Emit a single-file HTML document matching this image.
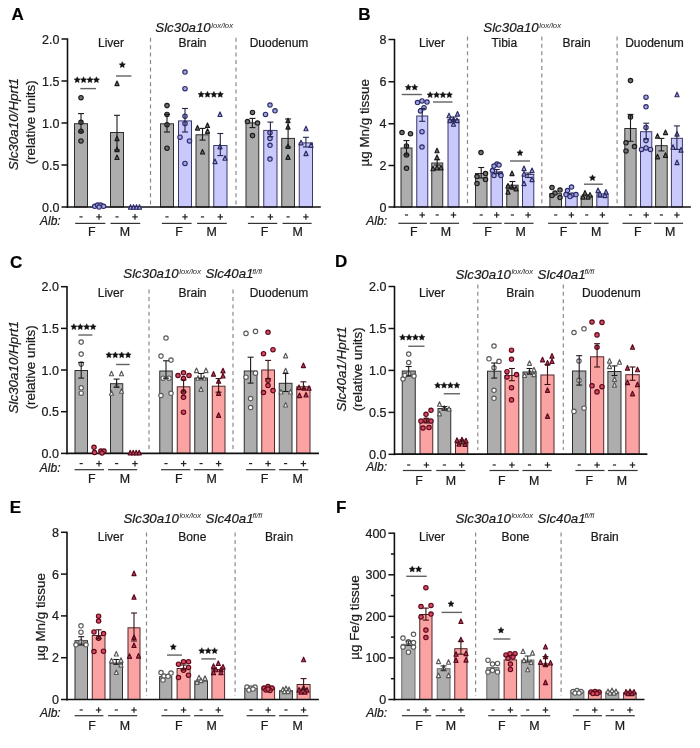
<!DOCTYPE html>
<html><head><meta charset="utf-8"><style>
html,body{margin:0;padding:0;background:#fff;}
svg{display:block;font-family:"Liberation Sans", sans-serif;will-change:transform;}
text{stroke:#1a1a1a;stroke-width:0.22px;}
</style></head><body>
<svg width="700" height="748" viewBox="0 0 700 748">
<rect width="700" height="748" fill="#fff"/>
<text x="11.40" y="20.00" font-size="17" text-anchor="start" fill="#000" font-weight="bold">A</text>
<text x="155.30" y="32.40" font-size="13.3" font-style="italic" fill="#1a1a1a">Slc30a10</text>
<text x="211.20" y="27.80" font-size="7.7" font-style="italic" fill="#2a2a2a" style="stroke:none">lox/lox</text>
<line x1="67.50" y1="38.40" x2="67.50" y2="207.90" stroke="#111" stroke-width="1.6"/>
<line x1="61.50" y1="39.00" x2="67.50" y2="39.00" stroke="#111" stroke-width="1.5"/>
<text x="59.40" y="43.50" font-size="12.5" text-anchor="end" fill="#1a1a1a">2.0</text>
<line x1="61.50" y1="81.00" x2="67.50" y2="81.00" stroke="#111" stroke-width="1.5"/>
<text x="59.40" y="85.50" font-size="12.5" text-anchor="end" fill="#1a1a1a">1.5</text>
<line x1="61.50" y1="123.00" x2="67.50" y2="123.00" stroke="#111" stroke-width="1.5"/>
<text x="59.40" y="127.50" font-size="12.5" text-anchor="end" fill="#1a1a1a">1.0</text>
<line x1="61.50" y1="165.00" x2="67.50" y2="165.00" stroke="#111" stroke-width="1.5"/>
<text x="59.40" y="169.50" font-size="12.5" text-anchor="end" fill="#1a1a1a">0.5</text>
<line x1="61.50" y1="207.00" x2="67.50" y2="207.00" stroke="#111" stroke-width="1.5"/>
<text x="59.40" y="211.50" font-size="12.5" text-anchor="end" fill="#1a1a1a">0.0</text>
<text x="0" y="0" font-size="13.4" text-anchor="middle" fill="#1a1a1a" font-style="italic" transform="translate(17.90,124.10) rotate(-90)">Slc30a10/Hprt1</text>
<text x="0" y="0" font-size="13.4" text-anchor="middle" fill="#1a1a1a" transform="translate(35.30,122.30) rotate(-90)">(relative units)</text>
<text x="111.00" y="47.00" font-size="12" text-anchor="middle" fill="#1a1a1a">Liver</text>
<text x="192.50" y="47.00" font-size="12" text-anchor="middle" fill="#1a1a1a">Brain</text>
<text x="279.00" y="47.00" font-size="12" text-anchor="middle" fill="#1a1a1a">Duodenum</text>
<line x1="150.50" y1="37.80" x2="150.50" y2="206.00" stroke="#8a8a8a" stroke-width="1.2" stroke-dasharray="4,3.4"/>
<line x1="236.00" y1="37.80" x2="236.00" y2="206.00" stroke="#8a8a8a" stroke-width="1.2" stroke-dasharray="4,3.4"/>
<rect x="74.50" y="123.70" width="13.00" height="83.30" fill="#adadad" stroke="#2e2e2e" stroke-width="1"/>
<rect x="92.50" y="207.50" width="13.00" height="0.00" fill="#c9c9fc" stroke="#3a3a6a" stroke-width="1"/>
<rect x="110.50" y="132.50" width="13.00" height="74.50" fill="#adadad" stroke="#2e2e2e" stroke-width="1"/>
<rect x="128.50" y="207.50" width="13.00" height="0.00" fill="#c9c9fc" stroke="#3a3a6a" stroke-width="1"/>
<rect x="160.50" y="123.80" width="13.00" height="83.20" fill="#adadad" stroke="#2e2e2e" stroke-width="1"/>
<rect x="178.50" y="120.90" width="13.00" height="86.10" fill="#c9c9fc" stroke="#3a3a6a" stroke-width="1"/>
<rect x="196.00" y="134.80" width="13.00" height="72.20" fill="#adadad" stroke="#2e2e2e" stroke-width="1"/>
<rect x="213.75" y="145.50" width="13.25" height="61.50" fill="#c9c9fc" stroke="#3a3a6a" stroke-width="1"/>
<rect x="246.00" y="122.90" width="12.75" height="84.10" fill="#adadad" stroke="#2e2e2e" stroke-width="1"/>
<rect x="263.75" y="130.40" width="13.25" height="76.60" fill="#c9c9fc" stroke="#3a3a6a" stroke-width="1"/>
<rect x="281.75" y="138.40" width="12.75" height="68.60" fill="#adadad" stroke="#2e2e2e" stroke-width="1"/>
<rect x="299.25" y="142.90" width="13.25" height="64.10" fill="#c9c9fc" stroke="#3a3a6a" stroke-width="1"/>
<line x1="66.70" y1="207.00" x2="320.80" y2="207.00" stroke="#111" stroke-width="1.7"/>
<circle cx="81.00" cy="97.70" r="2.2" fill="#717171" stroke="#1a1a1a" stroke-width="1.15"/>
<circle cx="81.00" cy="122.30" r="2.2" fill="#717171" stroke="#1a1a1a" stroke-width="1.15"/>
<circle cx="81.00" cy="131.30" r="2.2" fill="#717171" stroke="#1a1a1a" stroke-width="1.15"/>
<circle cx="81.00" cy="140.90" r="2.2" fill="#717171" stroke="#1a1a1a" stroke-width="1.15"/>
<circle cx="94.70" cy="206.30" r="2.2" fill="#a4a4e8" stroke="#2c2c66" stroke-width="1.15"/>
<circle cx="97.60" cy="205.00" r="2.2" fill="#a4a4e8" stroke="#2c2c66" stroke-width="1.15"/>
<circle cx="100.60" cy="205.00" r="2.2" fill="#a4a4e8" stroke="#2c2c66" stroke-width="1.15"/>
<circle cx="103.60" cy="206.30" r="2.2" fill="#a4a4e8" stroke="#2c2c66" stroke-width="1.15"/>
<circle cx="99.10" cy="207.00" r="2.2" fill="#a4a4e8" stroke="#2c2c66" stroke-width="1.15"/>
<polygon points="117.00,81.00 114.95,85.55 119.05,85.55" fill="#717171" stroke="#1a1a1a" stroke-width="1.15" stroke-linejoin="round"/>
<polygon points="117.00,136.10 114.95,140.65 119.05,140.65" fill="#717171" stroke="#1a1a1a" stroke-width="1.15" stroke-linejoin="round"/>
<polygon points="117.00,147.10 114.95,151.65 119.05,151.65" fill="#717171" stroke="#1a1a1a" stroke-width="1.15" stroke-linejoin="round"/>
<polygon points="117.00,154.90 114.95,159.45 119.05,159.45" fill="#717171" stroke="#1a1a1a" stroke-width="1.15" stroke-linejoin="round"/>
<polygon points="130.50,204.70 128.45,209.25 132.55,209.25" fill="#a4a4e8" stroke="#2c2c66" stroke-width="1.15" stroke-linejoin="round"/>
<polygon points="133.50,204.70 131.45,209.25 135.55,209.25" fill="#a4a4e8" stroke="#2c2c66" stroke-width="1.15" stroke-linejoin="round"/>
<polygon points="136.50,204.70 134.45,209.25 138.55,209.25" fill="#a4a4e8" stroke="#2c2c66" stroke-width="1.15" stroke-linejoin="round"/>
<polygon points="139.50,204.70 137.45,209.25 141.55,209.25" fill="#a4a4e8" stroke="#2c2c66" stroke-width="1.15" stroke-linejoin="round"/>
<circle cx="167.00" cy="105.60" r="2.2" fill="#717171" stroke="#1a1a1a" stroke-width="1.15"/>
<circle cx="167.00" cy="114.40" r="2.2" fill="#717171" stroke="#1a1a1a" stroke-width="1.15"/>
<circle cx="167.00" cy="124.70" r="2.2" fill="#717171" stroke="#1a1a1a" stroke-width="1.15"/>
<circle cx="167.00" cy="148.20" r="2.2" fill="#717171" stroke="#1a1a1a" stroke-width="1.15"/>
<circle cx="185.00" cy="72.00" r="2.2" fill="#a4a4e8" stroke="#2c2c66" stroke-width="1.15"/>
<circle cx="185.00" cy="88.70" r="2.2" fill="#a4a4e8" stroke="#2c2c66" stroke-width="1.15"/>
<circle cx="185.00" cy="116.20" r="2.2" fill="#a4a4e8" stroke="#2c2c66" stroke-width="1.15"/>
<circle cx="185.00" cy="123.50" r="2.2" fill="#a4a4e8" stroke="#2c2c66" stroke-width="1.15"/>
<circle cx="180.00" cy="137.20" r="2.2" fill="#a4a4e8" stroke="#2c2c66" stroke-width="1.15"/>
<circle cx="189.50" cy="140.90" r="2.2" fill="#a4a4e8" stroke="#2c2c66" stroke-width="1.15"/>
<circle cx="185.00" cy="163.40" r="2.2" fill="#a4a4e8" stroke="#2c2c66" stroke-width="1.15"/>
<polygon points="197.50,125.50 195.45,130.05 199.55,130.05" fill="#717171" stroke="#1a1a1a" stroke-width="1.15" stroke-linejoin="round"/>
<polygon points="207.50,122.90 205.45,127.45 209.55,127.45" fill="#717171" stroke="#1a1a1a" stroke-width="1.15" stroke-linejoin="round"/>
<polygon points="207.50,128.80 205.45,133.35 209.55,133.35" fill="#717171" stroke="#1a1a1a" stroke-width="1.15" stroke-linejoin="round"/>
<polygon points="202.50,149.40 200.45,153.95 204.55,153.95" fill="#717171" stroke="#1a1a1a" stroke-width="1.15" stroke-linejoin="round"/>
<polygon points="220.00,111.90 217.95,116.45 222.05,116.45" fill="#a4a4e8" stroke="#2c2c66" stroke-width="1.15" stroke-linejoin="round"/>
<polygon points="220.00,144.30 217.95,148.85 222.05,148.85" fill="#a4a4e8" stroke="#2c2c66" stroke-width="1.15" stroke-linejoin="round"/>
<polygon points="215.00,159.00 212.95,163.55 217.05,163.55" fill="#a4a4e8" stroke="#2c2c66" stroke-width="1.15" stroke-linejoin="round"/>
<polygon points="225.00,155.70 222.95,160.25 227.05,160.25" fill="#a4a4e8" stroke="#2c2c66" stroke-width="1.15" stroke-linejoin="round"/>
<circle cx="252.50" cy="112.40" r="2.2" fill="#717171" stroke="#1a1a1a" stroke-width="1.15"/>
<circle cx="247.50" cy="121.50" r="2.2" fill="#717171" stroke="#1a1a1a" stroke-width="1.15"/>
<circle cx="257.50" cy="123.00" r="2.2" fill="#717171" stroke="#1a1a1a" stroke-width="1.15"/>
<circle cx="252.50" cy="135.60" r="2.2" fill="#717171" stroke="#1a1a1a" stroke-width="1.15"/>
<circle cx="270.00" cy="105.00" r="2.2" fill="#a4a4e8" stroke="#2c2c66" stroke-width="1.15"/>
<circle cx="265.50" cy="114.40" r="2.2" fill="#a4a4e8" stroke="#2c2c66" stroke-width="1.15"/>
<circle cx="275.00" cy="110.80" r="2.2" fill="#a4a4e8" stroke="#2c2c66" stroke-width="1.15"/>
<circle cx="270.00" cy="132.70" r="2.2" fill="#a4a4e8" stroke="#2c2c66" stroke-width="1.15"/>
<circle cx="270.00" cy="138.40" r="2.2" fill="#a4a4e8" stroke="#2c2c66" stroke-width="1.15"/>
<circle cx="270.00" cy="145.30" r="2.2" fill="#a4a4e8" stroke="#2c2c66" stroke-width="1.15"/>
<circle cx="270.00" cy="159.00" r="2.2" fill="#a4a4e8" stroke="#2c2c66" stroke-width="1.15"/>
<polygon points="288.00,118.20 285.95,122.75 290.05,122.75" fill="#717171" stroke="#1a1a1a" stroke-width="1.15" stroke-linejoin="round"/>
<polygon points="288.00,124.50 285.95,129.05 290.05,129.05" fill="#717171" stroke="#1a1a1a" stroke-width="1.15" stroke-linejoin="round"/>
<polygon points="288.00,143.90 285.95,148.45 290.05,148.45" fill="#717171" stroke="#1a1a1a" stroke-width="1.15" stroke-linejoin="round"/>
<polygon points="288.00,154.80 285.95,159.35 290.05,159.35" fill="#717171" stroke="#1a1a1a" stroke-width="1.15" stroke-linejoin="round"/>
<polygon points="306.00,126.20 303.95,130.75 308.05,130.75" fill="#a4a4e8" stroke="#2c2c66" stroke-width="1.15" stroke-linejoin="round"/>
<polygon points="301.00,140.30 298.95,144.85 303.05,144.85" fill="#a4a4e8" stroke="#2c2c66" stroke-width="1.15" stroke-linejoin="round"/>
<polygon points="311.00,142.80 308.95,147.35 313.05,147.35" fill="#a4a4e8" stroke="#2c2c66" stroke-width="1.15" stroke-linejoin="round"/>
<polygon points="306.00,151.00 303.95,155.55 308.05,155.55" fill="#a4a4e8" stroke="#2c2c66" stroke-width="1.15" stroke-linejoin="round"/>
<polygon points="77.20,76.80 78.11,78.75 80.24,79.01 78.67,80.48 79.08,82.59 77.20,81.55 75.32,82.59 75.73,80.48 74.16,79.01 76.29,78.75" fill="#111" stroke="#111" stroke-width="0.5" stroke-linejoin="round"/>
<polygon points="83.60,76.80 84.51,78.75 86.64,79.01 85.07,80.48 85.48,82.59 83.60,81.55 81.72,82.59 82.13,80.48 80.56,79.01 82.69,78.75" fill="#111" stroke="#111" stroke-width="0.5" stroke-linejoin="round"/>
<polygon points="90.00,76.80 90.91,78.75 93.04,79.01 91.47,80.48 91.88,82.59 90.00,81.55 88.12,82.59 88.53,80.48 86.96,79.01 89.09,78.75" fill="#111" stroke="#111" stroke-width="0.5" stroke-linejoin="round"/>
<polygon points="96.40,76.80 97.31,78.75 99.44,79.01 97.87,80.48 98.28,82.59 96.40,81.55 94.52,82.59 94.93,80.48 93.36,79.01 95.49,78.75" fill="#111" stroke="#111" stroke-width="0.5" stroke-linejoin="round"/>
<line x1="80.30" y1="88.60" x2="96.00" y2="88.60" stroke="#626262" stroke-width="1.4"/>
<polygon points="122.30,61.70 123.21,63.65 125.34,63.91 123.77,65.38 124.18,67.49 122.30,66.45 120.42,67.49 120.83,65.38 119.26,63.91 121.39,63.65" fill="#111" stroke="#111" stroke-width="0.5" stroke-linejoin="round"/>
<line x1="116.00" y1="76.00" x2="131.40" y2="76.00" stroke="#626262" stroke-width="1.4"/>
<polygon points="201.10,91.40 202.01,93.35 204.14,93.61 202.57,95.08 202.98,97.19 201.10,96.15 199.22,97.19 199.63,95.08 198.06,93.61 200.19,93.35" fill="#111" stroke="#111" stroke-width="0.5" stroke-linejoin="round"/>
<polygon points="207.50,91.40 208.41,93.35 210.54,93.61 208.97,95.08 209.38,97.19 207.50,96.15 205.62,97.19 206.03,95.08 204.46,93.61 206.59,93.35" fill="#111" stroke="#111" stroke-width="0.5" stroke-linejoin="round"/>
<polygon points="213.90,91.40 214.81,93.35 216.94,93.61 215.37,95.08 215.78,97.19 213.90,96.15 212.02,97.19 212.43,95.08 210.86,93.61 212.99,93.35" fill="#111" stroke="#111" stroke-width="0.5" stroke-linejoin="round"/>
<polygon points="220.30,91.40 221.21,93.35 223.34,93.61 221.77,95.08 222.18,97.19 220.30,96.15 218.42,97.19 218.83,95.08 217.26,93.61 219.39,93.35" fill="#111" stroke="#111" stroke-width="0.5" stroke-linejoin="round"/>
<text x="40.00" y="225.00" font-size="12" text-anchor="start" fill="#1a1a1a" font-style="italic">Alb:</text>
<line x1="79.40" y1="216.90" x2="82.60" y2="216.90" stroke="#222" stroke-width="1.2"/>
<line x1="96.25" y1="216.90" x2="101.75" y2="216.90" stroke="#222" stroke-width="1.2"/>
<line x1="99.00" y1="214.10" x2="99.00" y2="219.70" stroke="#222" stroke-width="1.2"/>
<line x1="115.40" y1="216.90" x2="118.60" y2="216.90" stroke="#222" stroke-width="1.2"/>
<line x1="132.25" y1="216.90" x2="137.75" y2="216.90" stroke="#222" stroke-width="1.2"/>
<line x1="135.00" y1="214.10" x2="135.00" y2="219.70" stroke="#222" stroke-width="1.2"/>
<line x1="165.40" y1="216.90" x2="168.60" y2="216.90" stroke="#222" stroke-width="1.2"/>
<line x1="182.25" y1="216.90" x2="187.75" y2="216.90" stroke="#222" stroke-width="1.2"/>
<line x1="185.00" y1="214.10" x2="185.00" y2="219.70" stroke="#222" stroke-width="1.2"/>
<line x1="200.90" y1="216.90" x2="204.10" y2="216.90" stroke="#222" stroke-width="1.2"/>
<line x1="217.55" y1="216.90" x2="223.05" y2="216.90" stroke="#222" stroke-width="1.2"/>
<line x1="220.30" y1="214.10" x2="220.30" y2="219.70" stroke="#222" stroke-width="1.2"/>
<line x1="250.80" y1="216.90" x2="254.00" y2="216.90" stroke="#222" stroke-width="1.2"/>
<line x1="267.65" y1="216.90" x2="273.15" y2="216.90" stroke="#222" stroke-width="1.2"/>
<line x1="270.40" y1="214.10" x2="270.40" y2="219.70" stroke="#222" stroke-width="1.2"/>
<line x1="286.50" y1="216.90" x2="289.70" y2="216.90" stroke="#222" stroke-width="1.2"/>
<line x1="303.15" y1="216.90" x2="308.65" y2="216.90" stroke="#222" stroke-width="1.2"/>
<line x1="305.90" y1="214.10" x2="305.90" y2="219.70" stroke="#222" stroke-width="1.2"/>
<line x1="75.20" y1="223.40" x2="105.30" y2="223.40" stroke="#333" stroke-width="1.2"/>
<line x1="110.50" y1="223.40" x2="140.20" y2="223.40" stroke="#333" stroke-width="1.2"/>
<line x1="161.90" y1="223.40" x2="191.60" y2="223.40" stroke="#333" stroke-width="1.2"/>
<line x1="197.10" y1="223.40" x2="226.80" y2="223.40" stroke="#333" stroke-width="1.2"/>
<line x1="247.90" y1="223.40" x2="277.30" y2="223.40" stroke="#333" stroke-width="1.2"/>
<line x1="282.50" y1="223.40" x2="311.60" y2="223.40" stroke="#333" stroke-width="1.2"/>
<text x="91.80" y="236.30" font-size="12.4" text-anchor="middle" fill="#1a1a1a">F</text>
<text x="124.80" y="236.30" font-size="12.4" text-anchor="middle" fill="#1a1a1a">M</text>
<text x="179.00" y="236.30" font-size="12.4" text-anchor="middle" fill="#1a1a1a">F</text>
<text x="211.60" y="236.30" font-size="12.4" text-anchor="middle" fill="#1a1a1a">M</text>
<text x="264.60" y="236.30" font-size="12.4" text-anchor="middle" fill="#1a1a1a">F</text>
<text x="297.60" y="236.30" font-size="12.4" text-anchor="middle" fill="#1a1a1a">M</text>
<text x="358.20" y="19.70" font-size="17" text-anchor="start" fill="#000" font-weight="bold">B</text>
<text x="483.30" y="32.40" font-size="13.3" font-style="italic" fill="#1a1a1a">Slc30a10</text>
<text x="539.20" y="27.80" font-size="7.7" font-style="italic" fill="#2a2a2a" style="stroke:none">lox/lox</text>
<line x1="394.50" y1="38.90" x2="394.50" y2="207.90" stroke="#111" stroke-width="1.6"/>
<line x1="388.50" y1="39.50" x2="394.50" y2="39.50" stroke="#111" stroke-width="1.5"/>
<text x="386.40" y="44.00" font-size="12.5" text-anchor="end" fill="#1a1a1a">8</text>
<line x1="388.50" y1="81.75" x2="394.50" y2="81.75" stroke="#111" stroke-width="1.5"/>
<text x="386.40" y="86.25" font-size="12.5" text-anchor="end" fill="#1a1a1a">6</text>
<line x1="388.50" y1="123.75" x2="394.50" y2="123.75" stroke="#111" stroke-width="1.5"/>
<text x="386.40" y="128.25" font-size="12.5" text-anchor="end" fill="#1a1a1a">4</text>
<line x1="388.50" y1="165.50" x2="394.50" y2="165.50" stroke="#111" stroke-width="1.5"/>
<text x="386.40" y="170.00" font-size="12.5" text-anchor="end" fill="#1a1a1a">2</text>
<line x1="388.50" y1="207.00" x2="394.50" y2="207.00" stroke="#111" stroke-width="1.5"/>
<text x="386.40" y="211.50" font-size="12.5" text-anchor="end" fill="#1a1a1a">0</text>
<text x="0" y="0" font-size="13.4" text-anchor="middle" fill="#1a1a1a" transform="translate(369.20,122.80) rotate(-90)">µg Mn/g tissue</text>
<text x="432.00" y="46.75" font-size="12" text-anchor="middle" fill="#1a1a1a">Liver</text>
<text x="504.40" y="46.75" font-size="12" text-anchor="middle" fill="#1a1a1a">Tibia</text>
<text x="576.60" y="46.75" font-size="12" text-anchor="middle" fill="#1a1a1a">Brain</text>
<text x="654.50" y="46.75" font-size="12" text-anchor="middle" fill="#1a1a1a">Duodenum</text>
<line x1="467.50" y1="36.40" x2="467.50" y2="206.00" stroke="#8a8a8a" stroke-width="1.2" stroke-dasharray="4,3.4"/>
<line x1="541.80" y1="36.40" x2="541.80" y2="206.00" stroke="#8a8a8a" stroke-width="1.2" stroke-dasharray="4,3.4"/>
<line x1="617.10" y1="36.40" x2="617.10" y2="206.00" stroke="#8a8a8a" stroke-width="1.2" stroke-dasharray="4,3.4"/>
<rect x="401.00" y="148.00" width="11.00" height="59.00" fill="#adadad" stroke="#2e2e2e" stroke-width="1"/>
<rect x="416.75" y="116.00" width="11.00" height="91.00" fill="#c9c9fc" stroke="#3a3a6a" stroke-width="1"/>
<rect x="431.75" y="163.00" width="11.00" height="44.00" fill="#adadad" stroke="#2e2e2e" stroke-width="1"/>
<rect x="448.00" y="119.40" width="11.00" height="87.60" fill="#c9c9fc" stroke="#3a3a6a" stroke-width="1"/>
<rect x="475.50" y="173.50" width="11.50" height="33.50" fill="#adadad" stroke="#2e2e2e" stroke-width="1"/>
<rect x="491.00" y="172.00" width="11.50" height="35.00" fill="#c9c9fc" stroke="#3a3a6a" stroke-width="1"/>
<rect x="506.75" y="185.20" width="11.35" height="21.80" fill="#adadad" stroke="#2e2e2e" stroke-width="1"/>
<rect x="522.50" y="174.50" width="11.30" height="32.50" fill="#c9c9fc" stroke="#3a3a6a" stroke-width="1"/>
<rect x="549.90" y="193.70" width="11.60" height="13.30" fill="#adadad" stroke="#2e2e2e" stroke-width="1"/>
<rect x="565.60" y="193.50" width="11.60" height="13.50" fill="#c9c9fc" stroke="#3a3a6a" stroke-width="1"/>
<rect x="581.10" y="196.00" width="11.30" height="11.00" fill="#adadad" stroke="#2e2e2e" stroke-width="1"/>
<rect x="596.80" y="193.90" width="11.30" height="13.10" fill="#c9c9fc" stroke="#3a3a6a" stroke-width="1"/>
<rect x="624.80" y="128.50" width="11.30" height="78.50" fill="#adadad" stroke="#2e2e2e" stroke-width="1"/>
<rect x="640.50" y="131.70" width="11.30" height="75.30" fill="#c9c9fc" stroke="#3a3a6a" stroke-width="1"/>
<rect x="655.60" y="145.70" width="11.60" height="61.30" fill="#adadad" stroke="#2e2e2e" stroke-width="1"/>
<rect x="671.40" y="138.30" width="11.00" height="68.70" fill="#c9c9fc" stroke="#3a3a6a" stroke-width="1"/>
<line x1="393.70" y1="207.00" x2="690.90" y2="207.00" stroke="#111" stroke-width="1.7"/>
<circle cx="402.00" cy="132.50" r="2.2" fill="#717171" stroke="#1a1a1a" stroke-width="1.15"/>
<circle cx="410.50" cy="133.70" r="2.2" fill="#717171" stroke="#1a1a1a" stroke-width="1.15"/>
<circle cx="406.50" cy="145.90" r="2.2" fill="#717171" stroke="#1a1a1a" stroke-width="1.15"/>
<circle cx="406.50" cy="155.00" r="2.2" fill="#717171" stroke="#1a1a1a" stroke-width="1.15"/>
<circle cx="406.50" cy="168.30" r="2.2" fill="#717171" stroke="#1a1a1a" stroke-width="1.15"/>
<circle cx="417.50" cy="102.50" r="2.2" fill="#a4a4e8" stroke="#2c2c66" stroke-width="1.15"/>
<circle cx="422.00" cy="100.90" r="2.2" fill="#a4a4e8" stroke="#2c2c66" stroke-width="1.15"/>
<circle cx="427.00" cy="102.00" r="2.2" fill="#a4a4e8" stroke="#2c2c66" stroke-width="1.15"/>
<circle cx="424.00" cy="107.70" r="2.2" fill="#a4a4e8" stroke="#2c2c66" stroke-width="1.15"/>
<circle cx="420.50" cy="110.90" r="2.2" fill="#a4a4e8" stroke="#2c2c66" stroke-width="1.15"/>
<circle cx="422.00" cy="131.70" r="2.2" fill="#a4a4e8" stroke="#2c2c66" stroke-width="1.15"/>
<circle cx="422.00" cy="147.00" r="2.2" fill="#a4a4e8" stroke="#2c2c66" stroke-width="1.15"/>
<polygon points="437.00,148.20 434.95,152.75 439.05,152.75" fill="#717171" stroke="#1a1a1a" stroke-width="1.15" stroke-linejoin="round"/>
<polygon points="437.00,154.90 434.95,159.45 439.05,159.45" fill="#717171" stroke="#1a1a1a" stroke-width="1.15" stroke-linejoin="round"/>
<polygon points="433.00,166.20 430.95,170.75 435.05,170.75" fill="#717171" stroke="#1a1a1a" stroke-width="1.15" stroke-linejoin="round"/>
<polygon points="437.00,165.30 434.95,169.85 439.05,169.85" fill="#717171" stroke="#1a1a1a" stroke-width="1.15" stroke-linejoin="round"/>
<polygon points="441.00,165.30 438.95,169.85 443.05,169.85" fill="#717171" stroke="#1a1a1a" stroke-width="1.15" stroke-linejoin="round"/>
<polygon points="449.00,113.20 446.95,117.75 451.05,117.75" fill="#a4a4e8" stroke="#2c2c66" stroke-width="1.15" stroke-linejoin="round"/>
<polygon points="457.50,111.50 455.45,116.05 459.55,116.05" fill="#a4a4e8" stroke="#2c2c66" stroke-width="1.15" stroke-linejoin="round"/>
<polygon points="453.50,117.20 451.45,121.75 455.55,121.75" fill="#a4a4e8" stroke="#2c2c66" stroke-width="1.15" stroke-linejoin="round"/>
<polygon points="450.00,118.00 447.95,122.55 452.05,122.55" fill="#a4a4e8" stroke="#2c2c66" stroke-width="1.15" stroke-linejoin="round"/>
<polygon points="457.00,118.00 454.95,122.55 459.05,122.55" fill="#a4a4e8" stroke="#2c2c66" stroke-width="1.15" stroke-linejoin="round"/>
<polygon points="453.50,121.70 451.45,126.25 455.55,126.25" fill="#a4a4e8" stroke="#2c2c66" stroke-width="1.15" stroke-linejoin="round"/>
<polygon points="408.30,84.30 409.21,86.25 411.34,86.51 409.77,87.98 410.18,90.09 408.30,89.05 406.42,90.09 406.83,87.98 405.26,86.51 407.39,86.25" fill="#111" stroke="#111" stroke-width="0.5" stroke-linejoin="round"/>
<polygon points="414.70,84.30 415.61,86.25 417.74,86.51 416.17,87.98 416.58,90.09 414.70,89.05 412.82,90.09 413.23,87.98 411.66,86.51 413.79,86.25" fill="#111" stroke="#111" stroke-width="0.5" stroke-linejoin="round"/>
<line x1="401.75" y1="94.50" x2="421.75" y2="94.50" stroke="#626262" stroke-width="1.4"/>
<polygon points="430.15,91.80 431.06,93.75 433.19,94.01 431.62,95.48 432.03,97.59 430.15,96.55 428.27,97.59 428.68,95.48 427.11,94.01 429.24,93.75" fill="#111" stroke="#111" stroke-width="0.5" stroke-linejoin="round"/>
<polygon points="436.55,91.80 437.46,93.75 439.59,94.01 438.02,95.48 438.43,97.59 436.55,96.55 434.67,97.59 435.08,95.48 433.51,94.01 435.64,93.75" fill="#111" stroke="#111" stroke-width="0.5" stroke-linejoin="round"/>
<polygon points="442.95,91.80 443.86,93.75 445.99,94.01 444.42,95.48 444.83,97.59 442.95,96.55 441.07,97.59 441.48,95.48 439.91,94.01 442.04,93.75" fill="#111" stroke="#111" stroke-width="0.5" stroke-linejoin="round"/>
<polygon points="449.35,91.80 450.26,93.75 452.39,94.01 450.82,95.48 451.23,97.59 449.35,96.55 447.47,97.59 447.88,95.48 446.31,94.01 448.44,93.75" fill="#111" stroke="#111" stroke-width="0.5" stroke-linejoin="round"/>
<line x1="433.00" y1="102.00" x2="452.50" y2="102.00" stroke="#626262" stroke-width="1.4"/>
<circle cx="481.00" cy="152.50" r="2.2" fill="#717171" stroke="#1a1a1a" stroke-width="1.15"/>
<circle cx="477.00" cy="176.50" r="2.2" fill="#717171" stroke="#1a1a1a" stroke-width="1.15"/>
<circle cx="485.50" cy="173.50" r="2.2" fill="#717171" stroke="#1a1a1a" stroke-width="1.15"/>
<circle cx="485.50" cy="179.50" r="2.2" fill="#717171" stroke="#1a1a1a" stroke-width="1.15"/>
<circle cx="477.00" cy="183.50" r="2.2" fill="#717171" stroke="#1a1a1a" stroke-width="1.15"/>
<circle cx="497.00" cy="164.00" r="2.2" fill="#a4a4e8" stroke="#2c2c66" stroke-width="1.15"/>
<circle cx="494.00" cy="166.00" r="2.2" fill="#a4a4e8" stroke="#2c2c66" stroke-width="1.15"/>
<circle cx="499.00" cy="165.00" r="2.2" fill="#a4a4e8" stroke="#2c2c66" stroke-width="1.15"/>
<circle cx="492.50" cy="170.50" r="2.2" fill="#a4a4e8" stroke="#2c2c66" stroke-width="1.15"/>
<circle cx="500.50" cy="174.00" r="2.2" fill="#a4a4e8" stroke="#2c2c66" stroke-width="1.15"/>
<circle cx="494.00" cy="175.50" r="2.2" fill="#a4a4e8" stroke="#2c2c66" stroke-width="1.15"/>
<circle cx="501.00" cy="175.50" r="2.2" fill="#a4a4e8" stroke="#2c2c66" stroke-width="1.15"/>
<polygon points="512.00,171.00 509.95,175.55 514.05,175.55" fill="#717171" stroke="#1a1a1a" stroke-width="1.15" stroke-linejoin="round"/>
<polygon points="508.00,183.50 505.95,188.05 510.05,188.05" fill="#717171" stroke="#1a1a1a" stroke-width="1.15" stroke-linejoin="round"/>
<polygon points="512.00,184.50 509.95,189.05 514.05,189.05" fill="#717171" stroke="#1a1a1a" stroke-width="1.15" stroke-linejoin="round"/>
<polygon points="516.00,186.30 513.95,190.85 518.05,190.85" fill="#717171" stroke="#1a1a1a" stroke-width="1.15" stroke-linejoin="round"/>
<polygon points="508.00,189.50 505.95,194.05 510.05,194.05" fill="#717171" stroke="#1a1a1a" stroke-width="1.15" stroke-linejoin="round"/>
<polygon points="524.00,166.00 521.95,170.55 526.05,170.55" fill="#a4a4e8" stroke="#2c2c66" stroke-width="1.15" stroke-linejoin="round"/>
<polygon points="532.00,168.00 529.95,172.55 534.05,172.55" fill="#a4a4e8" stroke="#2c2c66" stroke-width="1.15" stroke-linejoin="round"/>
<polygon points="524.00,171.50 521.95,176.05 526.05,176.05" fill="#a4a4e8" stroke="#2c2c66" stroke-width="1.15" stroke-linejoin="round"/>
<polygon points="532.00,177.00 529.95,181.55 534.05,181.55" fill="#a4a4e8" stroke="#2c2c66" stroke-width="1.15" stroke-linejoin="round"/>
<polygon points="524.00,181.00 521.95,185.55 526.05,185.55" fill="#a4a4e8" stroke="#2c2c66" stroke-width="1.15" stroke-linejoin="round"/>
<polygon points="520.00,149.80 520.91,151.75 523.04,152.01 521.47,153.48 521.88,155.59 520.00,154.55 518.12,155.59 518.53,153.48 516.96,152.01 519.09,151.75" fill="#111" stroke="#111" stroke-width="0.5" stroke-linejoin="round"/>
<line x1="510.00" y1="161.00" x2="530.00" y2="161.00" stroke="#626262" stroke-width="1.4"/>
<circle cx="552.00" cy="187.50" r="2.2" fill="#717171" stroke="#1a1a1a" stroke-width="1.15"/>
<circle cx="560.00" cy="190.00" r="2.2" fill="#717171" stroke="#1a1a1a" stroke-width="1.15"/>
<circle cx="555.00" cy="193.00" r="2.2" fill="#717171" stroke="#1a1a1a" stroke-width="1.15"/>
<circle cx="552.00" cy="195.50" r="2.2" fill="#717171" stroke="#1a1a1a" stroke-width="1.15"/>
<circle cx="560.00" cy="197.50" r="2.2" fill="#717171" stroke="#1a1a1a" stroke-width="1.15"/>
<circle cx="571.50" cy="187.00" r="2.2" fill="#a4a4e8" stroke="#2c2c66" stroke-width="1.15"/>
<circle cx="567.50" cy="190.50" r="2.2" fill="#a4a4e8" stroke="#2c2c66" stroke-width="1.15"/>
<circle cx="566.00" cy="194.50" r="2.2" fill="#a4a4e8" stroke="#2c2c66" stroke-width="1.15"/>
<circle cx="572.00" cy="195.00" r="2.2" fill="#a4a4e8" stroke="#2c2c66" stroke-width="1.15"/>
<circle cx="576.00" cy="194.50" r="2.2" fill="#a4a4e8" stroke="#2c2c66" stroke-width="1.15"/>
<circle cx="570.00" cy="196.50" r="2.2" fill="#a4a4e8" stroke="#2c2c66" stroke-width="1.15"/>
<polygon points="585.00,190.50 582.95,195.05 587.05,195.05" fill="#717171" stroke="#1a1a1a" stroke-width="1.15" stroke-linejoin="round"/>
<polygon points="590.00,192.50 587.95,197.05 592.05,197.05" fill="#717171" stroke="#1a1a1a" stroke-width="1.15" stroke-linejoin="round"/>
<polygon points="583.00,194.50 580.95,199.05 585.05,199.05" fill="#717171" stroke="#1a1a1a" stroke-width="1.15" stroke-linejoin="round"/>
<polygon points="588.00,194.50 585.95,199.05 590.05,199.05" fill="#717171" stroke="#1a1a1a" stroke-width="1.15" stroke-linejoin="round"/>
<polygon points="598.00,188.00 595.95,192.55 600.05,192.55" fill="#a4a4e8" stroke="#2c2c66" stroke-width="1.15" stroke-linejoin="round"/>
<polygon points="606.00,189.50 603.95,194.05 608.05,194.05" fill="#a4a4e8" stroke="#2c2c66" stroke-width="1.15" stroke-linejoin="round"/>
<polygon points="600.00,192.50 597.95,197.05 602.05,197.05" fill="#a4a4e8" stroke="#2c2c66" stroke-width="1.15" stroke-linejoin="round"/>
<polygon points="605.00,193.00 602.95,197.55 607.05,197.55" fill="#a4a4e8" stroke="#2c2c66" stroke-width="1.15" stroke-linejoin="round"/>
<polygon points="600.00,191.50 597.95,196.05 602.05,196.05" fill="#a4a4e8" stroke="#2c2c66" stroke-width="1.15" stroke-linejoin="round"/>
<polygon points="592.50,174.80 593.41,176.75 595.54,177.01 593.97,178.48 594.38,180.59 592.50,179.55 590.62,180.59 591.03,178.48 589.46,177.01 591.59,176.75" fill="#111" stroke="#111" stroke-width="0.5" stroke-linejoin="round"/>
<line x1="584.00" y1="184.20" x2="602.80" y2="184.20" stroke="#626262" stroke-width="1.4"/>
<circle cx="630.50" cy="80.60" r="2.2" fill="#717171" stroke="#1a1a1a" stroke-width="1.15"/>
<circle cx="630.50" cy="117.10" r="2.2" fill="#717171" stroke="#1a1a1a" stroke-width="1.15"/>
<circle cx="626.00" cy="142.80" r="2.2" fill="#717171" stroke="#1a1a1a" stroke-width="1.15"/>
<circle cx="634.50" cy="146.50" r="2.2" fill="#717171" stroke="#1a1a1a" stroke-width="1.15"/>
<circle cx="626.00" cy="150.90" r="2.2" fill="#717171" stroke="#1a1a1a" stroke-width="1.15"/>
<circle cx="646.00" cy="97.20" r="2.2" fill="#a4a4e8" stroke="#2c2c66" stroke-width="1.15"/>
<circle cx="646.00" cy="106.80" r="2.2" fill="#a4a4e8" stroke="#2c2c66" stroke-width="1.15"/>
<circle cx="646.00" cy="127.40" r="2.2" fill="#a4a4e8" stroke="#2c2c66" stroke-width="1.15"/>
<circle cx="646.00" cy="140.60" r="2.2" fill="#a4a4e8" stroke="#2c2c66" stroke-width="1.15"/>
<circle cx="641.50" cy="149.40" r="2.2" fill="#a4a4e8" stroke="#2c2c66" stroke-width="1.15"/>
<circle cx="646.00" cy="147.90" r="2.2" fill="#a4a4e8" stroke="#2c2c66" stroke-width="1.15"/>
<circle cx="650.50" cy="149.40" r="2.2" fill="#a4a4e8" stroke="#2c2c66" stroke-width="1.15"/>
<polygon points="657.50,133.70 655.45,138.25 659.55,138.25" fill="#717171" stroke="#1a1a1a" stroke-width="1.15" stroke-linejoin="round"/>
<polygon points="665.50,130.00 663.45,134.55 667.55,134.55" fill="#717171" stroke="#1a1a1a" stroke-width="1.15" stroke-linejoin="round"/>
<polygon points="657.50,154.30 655.45,158.85 659.55,158.85" fill="#717171" stroke="#1a1a1a" stroke-width="1.15" stroke-linejoin="round"/>
<polygon points="665.50,152.80 663.45,157.35 667.55,157.35" fill="#717171" stroke="#1a1a1a" stroke-width="1.15" stroke-linejoin="round"/>
<polygon points="677.00,92.20 674.95,96.75 679.05,96.75" fill="#a4a4e8" stroke="#2c2c66" stroke-width="1.15" stroke-linejoin="round"/>
<polygon points="677.00,131.50 674.95,136.05 679.05,136.05" fill="#a4a4e8" stroke="#2c2c66" stroke-width="1.15" stroke-linejoin="round"/>
<polygon points="673.00,144.70 670.95,149.25 675.05,149.25" fill="#a4a4e8" stroke="#2c2c66" stroke-width="1.15" stroke-linejoin="round"/>
<polygon points="681.00,147.60 678.95,152.15 683.05,152.15" fill="#a4a4e8" stroke="#2c2c66" stroke-width="1.15" stroke-linejoin="round"/>
<polygon points="677.00,160.10 674.95,164.65 679.05,164.65" fill="#a4a4e8" stroke="#2c2c66" stroke-width="1.15" stroke-linejoin="round"/>
<text x="366.30" y="224.80" font-size="12" text-anchor="start" fill="#1a1a1a" font-style="italic">Alb:</text>
<line x1="404.90" y1="215.00" x2="408.10" y2="215.00" stroke="#222" stroke-width="1.2"/>
<line x1="419.45" y1="215.00" x2="424.95" y2="215.00" stroke="#222" stroke-width="1.2"/>
<line x1="422.20" y1="212.20" x2="422.20" y2="217.80" stroke="#222" stroke-width="1.2"/>
<line x1="435.60" y1="215.00" x2="438.80" y2="215.00" stroke="#222" stroke-width="1.2"/>
<line x1="450.75" y1="215.00" x2="456.25" y2="215.00" stroke="#222" stroke-width="1.2"/>
<line x1="453.50" y1="212.20" x2="453.50" y2="217.80" stroke="#222" stroke-width="1.2"/>
<line x1="479.60" y1="215.00" x2="482.80" y2="215.00" stroke="#222" stroke-width="1.2"/>
<line x1="493.95" y1="215.00" x2="499.45" y2="215.00" stroke="#222" stroke-width="1.2"/>
<line x1="496.70" y1="212.20" x2="496.70" y2="217.80" stroke="#222" stroke-width="1.2"/>
<line x1="510.80" y1="215.00" x2="514.00" y2="215.00" stroke="#222" stroke-width="1.2"/>
<line x1="525.35" y1="215.00" x2="530.85" y2="215.00" stroke="#222" stroke-width="1.2"/>
<line x1="528.10" y1="212.20" x2="528.10" y2="217.80" stroke="#222" stroke-width="1.2"/>
<line x1="554.10" y1="215.00" x2="557.30" y2="215.00" stroke="#222" stroke-width="1.2"/>
<line x1="568.65" y1="215.00" x2="574.15" y2="215.00" stroke="#222" stroke-width="1.2"/>
<line x1="571.40" y1="212.20" x2="571.40" y2="217.80" stroke="#222" stroke-width="1.2"/>
<line x1="585.10" y1="215.00" x2="588.30" y2="215.00" stroke="#222" stroke-width="1.2"/>
<line x1="599.65" y1="215.00" x2="605.15" y2="215.00" stroke="#222" stroke-width="1.2"/>
<line x1="602.40" y1="212.20" x2="602.40" y2="217.80" stroke="#222" stroke-width="1.2"/>
<line x1="628.90" y1="215.00" x2="632.10" y2="215.00" stroke="#222" stroke-width="1.2"/>
<line x1="643.45" y1="215.00" x2="648.95" y2="215.00" stroke="#222" stroke-width="1.2"/>
<line x1="646.20" y1="212.20" x2="646.20" y2="217.80" stroke="#222" stroke-width="1.2"/>
<line x1="659.80" y1="215.00" x2="663.00" y2="215.00" stroke="#222" stroke-width="1.2"/>
<line x1="674.15" y1="215.00" x2="679.65" y2="215.00" stroke="#222" stroke-width="1.2"/>
<line x1="676.90" y1="212.20" x2="676.90" y2="217.80" stroke="#222" stroke-width="1.2"/>
<line x1="398.30" y1="223.30" x2="426.90" y2="223.30" stroke="#333" stroke-width="1.2"/>
<line x1="429.90" y1="223.30" x2="459.10" y2="223.30" stroke="#333" stroke-width="1.2"/>
<line x1="472.60" y1="223.30" x2="501.80" y2="223.30" stroke="#333" stroke-width="1.2"/>
<line x1="504.20" y1="223.30" x2="533.50" y2="223.30" stroke="#333" stroke-width="1.2"/>
<line x1="548.10" y1="223.30" x2="576.90" y2="223.30" stroke="#333" stroke-width="1.2"/>
<line x1="579.60" y1="223.30" x2="608.60" y2="223.30" stroke="#333" stroke-width="1.2"/>
<line x1="622.50" y1="223.30" x2="651.40" y2="223.30" stroke="#333" stroke-width="1.2"/>
<line x1="654.00" y1="223.30" x2="683.10" y2="223.30" stroke="#333" stroke-width="1.2"/>
<text x="413.90" y="236.00" font-size="12.4" text-anchor="middle" fill="#1a1a1a">F</text>
<text x="446.00" y="236.00" font-size="12.4" text-anchor="middle" fill="#1a1a1a">M</text>
<text x="488.10" y="236.00" font-size="12.4" text-anchor="middle" fill="#1a1a1a">F</text>
<text x="520.70" y="236.00" font-size="12.4" text-anchor="middle" fill="#1a1a1a">M</text>
<text x="563.60" y="236.00" font-size="12.4" text-anchor="middle" fill="#1a1a1a">F</text>
<text x="596.10" y="236.00" font-size="12.4" text-anchor="middle" fill="#1a1a1a">M</text>
<text x="637.70" y="236.00" font-size="12.4" text-anchor="middle" fill="#1a1a1a">F</text>
<text x="670.10" y="236.00" font-size="12.4" text-anchor="middle" fill="#1a1a1a">M</text>
<text x="10.00" y="268.00" font-size="17" text-anchor="start" fill="#000" font-weight="bold">C</text>
<text x="123.30" y="278.40" font-size="13.3" font-style="italic" fill="#1a1a1a">Slc30a10</text>
<text x="179.20" y="273.80" font-size="7.7" font-style="italic" fill="#2a2a2a" style="stroke:none">lox/lox</text>
<text x="205.40" y="278.40" font-size="13.3" font-style="italic" fill="#1a1a1a">Slc40a1</text>
<text x="252.20" y="273.80" font-size="7.7" font-style="italic" fill="#2a2a2a" style="stroke:none">fl/fl</text>
<line x1="67.00" y1="286.10" x2="67.00" y2="454.30" stroke="#111" stroke-width="1.6"/>
<line x1="61.00" y1="286.70" x2="67.00" y2="286.70" stroke="#111" stroke-width="1.5"/>
<text x="58.90" y="291.20" font-size="12.5" text-anchor="end" fill="#1a1a1a">2.0</text>
<line x1="61.00" y1="328.40" x2="67.00" y2="328.40" stroke="#111" stroke-width="1.5"/>
<text x="58.90" y="332.90" font-size="12.5" text-anchor="end" fill="#1a1a1a">1.5</text>
<line x1="61.00" y1="370.00" x2="67.00" y2="370.00" stroke="#111" stroke-width="1.5"/>
<text x="58.90" y="374.50" font-size="12.5" text-anchor="end" fill="#1a1a1a">1.0</text>
<line x1="61.00" y1="411.70" x2="67.00" y2="411.70" stroke="#111" stroke-width="1.5"/>
<text x="58.90" y="416.20" font-size="12.5" text-anchor="end" fill="#1a1a1a">0.5</text>
<line x1="61.00" y1="453.40" x2="67.00" y2="453.40" stroke="#111" stroke-width="1.5"/>
<text x="58.90" y="457.90" font-size="12.5" text-anchor="end" fill="#1a1a1a">0.0</text>
<text x="0" y="0" font-size="13.4" text-anchor="middle" fill="#1a1a1a" font-style="italic" transform="translate(17.90,367.30) rotate(-90)">Slc30a10/Hprt1</text>
<text x="0" y="0" font-size="13.4" text-anchor="middle" fill="#1a1a1a" transform="translate(35.30,367.30) rotate(-90)">(relative units)</text>
<text x="110.75" y="297.00" font-size="12" text-anchor="middle" fill="#1a1a1a">Liver</text>
<text x="192.50" y="297.00" font-size="12" text-anchor="middle" fill="#1a1a1a">Brain</text>
<text x="279.00" y="297.00" font-size="12" text-anchor="middle" fill="#1a1a1a">Duodenum</text>
<line x1="149.00" y1="289.60" x2="149.00" y2="449.00" stroke="#8a8a8a" stroke-width="1.2" stroke-dasharray="4,3.4"/>
<line x1="233.00" y1="289.60" x2="233.00" y2="449.00" stroke="#8a8a8a" stroke-width="1.2" stroke-dasharray="4,3.4"/>
<rect x="75.00" y="370.50" width="12.50" height="82.80" fill="#adadad" stroke="#2e2e2e" stroke-width="1"/>
<rect x="92.50" y="453.80" width="13.00" height="0.00" fill="#fba3a3" stroke="#52282a" stroke-width="1"/>
<rect x="110.50" y="383.70" width="12.25" height="69.60" fill="#adadad" stroke="#2e2e2e" stroke-width="1"/>
<rect x="128.50" y="453.80" width="13.00" height="0.00" fill="#fba3a3" stroke="#52282a" stroke-width="1"/>
<rect x="159.75" y="371.00" width="12.50" height="82.30" fill="#adadad" stroke="#2e2e2e" stroke-width="1"/>
<rect x="177.25" y="386.80" width="12.75" height="66.50" fill="#fba3a3" stroke="#52282a" stroke-width="1"/>
<rect x="194.75" y="378.00" width="12.75" height="75.30" fill="#adadad" stroke="#2e2e2e" stroke-width="1"/>
<rect x="212.25" y="386.20" width="12.75" height="67.10" fill="#fba3a3" stroke="#52282a" stroke-width="1"/>
<rect x="244.25" y="371.00" width="12.75" height="82.30" fill="#adadad" stroke="#2e2e2e" stroke-width="1"/>
<rect x="261.75" y="370.00" width="12.75" height="83.30" fill="#fba3a3" stroke="#52282a" stroke-width="1"/>
<rect x="279.25" y="383.30" width="12.75" height="70.00" fill="#adadad" stroke="#2e2e2e" stroke-width="1"/>
<rect x="296.75" y="386.80" width="13.25" height="66.50" fill="#fba3a3" stroke="#52282a" stroke-width="1"/>
<line x1="66.20" y1="453.30" x2="319.00" y2="453.30" stroke="#111" stroke-width="1.7"/>
<circle cx="81.20" cy="342.10" r="2.2" fill="#ffffff" stroke="#5a5a5a" stroke-width="1.15"/>
<circle cx="81.20" cy="354.10" r="2.2" fill="#ffffff" stroke="#5a5a5a" stroke-width="1.15"/>
<circle cx="81.20" cy="364.10" r="2.2" fill="#ffffff" stroke="#5a5a5a" stroke-width="1.15"/>
<circle cx="81.20" cy="387.80" r="2.2" fill="#ffffff" stroke="#5a5a5a" stroke-width="1.15"/>
<circle cx="81.20" cy="393.20" r="2.2" fill="#ffffff" stroke="#5a5a5a" stroke-width="1.15"/>
<circle cx="94.00" cy="447.30" r="2.2" fill="#d9485e" stroke="#5a0a1c" stroke-width="1.15"/>
<circle cx="94.50" cy="452.50" r="2.2" fill="#d9485e" stroke="#5a0a1c" stroke-width="1.15"/>
<circle cx="100.90" cy="451.00" r="2.2" fill="#d9485e" stroke="#5a0a1c" stroke-width="1.15"/>
<circle cx="104.00" cy="451.00" r="2.2" fill="#d9485e" stroke="#5a0a1c" stroke-width="1.15"/>
<circle cx="102.00" cy="453.00" r="2.2" fill="#d9485e" stroke="#5a0a1c" stroke-width="1.15"/>
<polygon points="111.50,371.20 109.45,375.75 113.55,375.75" fill="#ffffff" stroke="#5a5a5a" stroke-width="1.15" stroke-linejoin="round"/>
<polygon points="121.50,371.20 119.45,375.75 123.55,375.75" fill="#ffffff" stroke="#5a5a5a" stroke-width="1.15" stroke-linejoin="round"/>
<polygon points="111.50,390.70 109.45,395.25 113.55,395.25" fill="#ffffff" stroke="#5a5a5a" stroke-width="1.15" stroke-linejoin="round"/>
<polygon points="121.50,388.70 119.45,393.25 123.55,393.25" fill="#ffffff" stroke="#5a5a5a" stroke-width="1.15" stroke-linejoin="round"/>
<polygon points="116.60,382.60 114.55,387.15 118.65,387.15" fill="#ffffff" stroke="#5a5a5a" stroke-width="1.15" stroke-linejoin="round"/>
<polygon points="130.20,450.30 128.15,454.85 132.25,454.85" fill="#b54057" stroke="#5a0a1c" stroke-width="1.15" stroke-linejoin="round"/>
<polygon points="133.20,450.30 131.15,454.85 135.25,454.85" fill="#b54057" stroke="#5a0a1c" stroke-width="1.15" stroke-linejoin="round"/>
<polygon points="136.20,450.30 134.15,454.85 138.25,454.85" fill="#b54057" stroke="#5a0a1c" stroke-width="1.15" stroke-linejoin="round"/>
<polygon points="139.20,450.30 137.15,454.85 141.25,454.85" fill="#b54057" stroke="#5a0a1c" stroke-width="1.15" stroke-linejoin="round"/>
<circle cx="166.00" cy="338.00" r="2.2" fill="#ffffff" stroke="#5a5a5a" stroke-width="1.15"/>
<circle cx="161.00" cy="356.10" r="2.2" fill="#ffffff" stroke="#5a5a5a" stroke-width="1.15"/>
<circle cx="171.00" cy="360.10" r="2.2" fill="#ffffff" stroke="#5a5a5a" stroke-width="1.15"/>
<circle cx="163.00" cy="378.20" r="2.2" fill="#ffffff" stroke="#5a5a5a" stroke-width="1.15"/>
<circle cx="169.00" cy="378.20" r="2.2" fill="#ffffff" stroke="#5a5a5a" stroke-width="1.15"/>
<circle cx="161.00" cy="395.50" r="2.2" fill="#ffffff" stroke="#5a5a5a" stroke-width="1.15"/>
<circle cx="171.00" cy="393.30" r="2.2" fill="#ffffff" stroke="#5a5a5a" stroke-width="1.15"/>
<circle cx="183.50" cy="372.80" r="2.2" fill="#d9485e" stroke="#5a0a1c" stroke-width="1.15"/>
<circle cx="178.00" cy="375.50" r="2.2" fill="#d9485e" stroke="#5a0a1c" stroke-width="1.15"/>
<circle cx="189.00" cy="375.50" r="2.2" fill="#d9485e" stroke="#5a0a1c" stroke-width="1.15"/>
<circle cx="183.50" cy="378.60" r="2.2" fill="#d9485e" stroke="#5a0a1c" stroke-width="1.15"/>
<circle cx="183.50" cy="391.90" r="2.2" fill="#d9485e" stroke="#5a0a1c" stroke-width="1.15"/>
<circle cx="183.50" cy="397.30" r="2.2" fill="#d9485e" stroke="#5a0a1c" stroke-width="1.15"/>
<circle cx="183.50" cy="412.20" r="2.2" fill="#d9485e" stroke="#5a0a1c" stroke-width="1.15"/>
<polygon points="196.50,368.00 194.45,372.55 198.55,372.55" fill="#ffffff" stroke="#5a5a5a" stroke-width="1.15" stroke-linejoin="round"/>
<polygon points="206.00,368.00 203.95,372.55 208.05,372.55" fill="#ffffff" stroke="#5a5a5a" stroke-width="1.15" stroke-linejoin="round"/>
<polygon points="198.00,375.70 195.95,380.25 200.05,380.25" fill="#ffffff" stroke="#5a5a5a" stroke-width="1.15" stroke-linejoin="round"/>
<polygon points="204.00,375.70 201.95,380.25 206.05,380.25" fill="#ffffff" stroke="#5a5a5a" stroke-width="1.15" stroke-linejoin="round"/>
<polygon points="201.00,386.80 198.95,391.35 203.05,391.35" fill="#ffffff" stroke="#5a5a5a" stroke-width="1.15" stroke-linejoin="round"/>
<polygon points="213.50,371.60 211.45,376.15 215.55,376.15" fill="#b54057" stroke="#5a0a1c" stroke-width="1.15" stroke-linejoin="round"/>
<polygon points="223.00,368.30 220.95,372.85 225.05,372.85" fill="#b54057" stroke="#5a0a1c" stroke-width="1.15" stroke-linejoin="round"/>
<polygon points="223.00,373.40 220.95,377.95 225.05,377.95" fill="#b54057" stroke="#5a0a1c" stroke-width="1.15" stroke-linejoin="round"/>
<polygon points="218.60,378.70 216.55,383.25 220.65,383.25" fill="#b54057" stroke="#5a0a1c" stroke-width="1.15" stroke-linejoin="round"/>
<polygon points="218.60,390.80 216.55,395.35 220.65,395.35" fill="#b54057" stroke="#5a0a1c" stroke-width="1.15" stroke-linejoin="round"/>
<polygon points="218.60,412.80 216.55,417.35 220.65,417.35" fill="#b54057" stroke="#5a0a1c" stroke-width="1.15" stroke-linejoin="round"/>
<circle cx="246.00" cy="333.40" r="2.2" fill="#ffffff" stroke="#5a5a5a" stroke-width="1.15"/>
<circle cx="255.50" cy="331.40" r="2.2" fill="#ffffff" stroke="#5a5a5a" stroke-width="1.15"/>
<circle cx="255.50" cy="373.20" r="2.2" fill="#ffffff" stroke="#5a5a5a" stroke-width="1.15"/>
<circle cx="246.00" cy="377.20" r="2.2" fill="#ffffff" stroke="#5a5a5a" stroke-width="1.15"/>
<circle cx="250.60" cy="398.60" r="2.2" fill="#ffffff" stroke="#5a5a5a" stroke-width="1.15"/>
<circle cx="250.60" cy="407.60" r="2.2" fill="#ffffff" stroke="#5a5a5a" stroke-width="1.15"/>
<circle cx="268.00" cy="332.30" r="2.2" fill="#d9485e" stroke="#5a0a1c" stroke-width="1.15"/>
<circle cx="263.50" cy="353.70" r="2.2" fill="#d9485e" stroke="#5a0a1c" stroke-width="1.15"/>
<circle cx="273.00" cy="349.70" r="2.2" fill="#d9485e" stroke="#5a0a1c" stroke-width="1.15"/>
<circle cx="268.00" cy="380.20" r="2.2" fill="#d9485e" stroke="#5a0a1c" stroke-width="1.15"/>
<circle cx="268.00" cy="385.50" r="2.2" fill="#d9485e" stroke="#5a0a1c" stroke-width="1.15"/>
<circle cx="263.50" cy="392.50" r="2.2" fill="#d9485e" stroke="#5a0a1c" stroke-width="1.15"/>
<circle cx="273.00" cy="390.60" r="2.2" fill="#d9485e" stroke="#5a0a1c" stroke-width="1.15"/>
<polygon points="285.60,353.30 283.55,357.85 287.65,357.85" fill="#ffffff" stroke="#5a5a5a" stroke-width="1.15" stroke-linejoin="round"/>
<polygon points="285.60,368.30 283.55,372.85 287.65,372.85" fill="#ffffff" stroke="#5a5a5a" stroke-width="1.15" stroke-linejoin="round"/>
<polygon points="281.00,389.40 278.95,393.95 283.05,393.95" fill="#ffffff" stroke="#5a5a5a" stroke-width="1.15" stroke-linejoin="round"/>
<polygon points="290.50,389.40 288.45,393.95 292.55,393.95" fill="#ffffff" stroke="#5a5a5a" stroke-width="1.15" stroke-linejoin="round"/>
<polygon points="285.60,402.40 283.55,406.95 287.65,406.95" fill="#ffffff" stroke="#5a5a5a" stroke-width="1.15" stroke-linejoin="round"/>
<polygon points="303.40,363.00 301.35,367.55 305.45,367.55" fill="#b54057" stroke="#5a0a1c" stroke-width="1.15" stroke-linejoin="round"/>
<polygon points="299.00,385.00 296.95,389.55 301.05,389.55" fill="#b54057" stroke="#5a0a1c" stroke-width="1.15" stroke-linejoin="round"/>
<polygon points="304.00,385.70 301.95,390.25 306.05,390.25" fill="#b54057" stroke="#5a0a1c" stroke-width="1.15" stroke-linejoin="round"/>
<polygon points="309.00,385.70 306.95,390.25 311.05,390.25" fill="#b54057" stroke="#5a0a1c" stroke-width="1.15" stroke-linejoin="round"/>
<polygon points="299.50,393.00 297.45,397.55 301.55,397.55" fill="#b54057" stroke="#5a0a1c" stroke-width="1.15" stroke-linejoin="round"/>
<polygon points="306.00,392.40 303.95,396.95 308.05,396.95" fill="#b54057" stroke="#5a0a1c" stroke-width="1.15" stroke-linejoin="round"/>
<polygon points="73.90,323.80 74.81,325.75 76.94,326.01 75.37,327.48 75.78,329.59 73.90,328.55 72.02,329.59 72.43,327.48 70.86,326.01 72.99,325.75" fill="#111" stroke="#111" stroke-width="0.5" stroke-linejoin="round"/>
<polygon points="80.30,323.80 81.21,325.75 83.34,326.01 81.77,327.48 82.18,329.59 80.30,328.55 78.42,329.59 78.83,327.48 77.26,326.01 79.39,325.75" fill="#111" stroke="#111" stroke-width="0.5" stroke-linejoin="round"/>
<polygon points="86.70,323.80 87.61,325.75 89.74,326.01 88.17,327.48 88.58,329.59 86.70,328.55 84.82,329.59 85.23,327.48 83.66,326.01 85.79,325.75" fill="#111" stroke="#111" stroke-width="0.5" stroke-linejoin="round"/>
<polygon points="93.10,323.80 94.01,325.75 96.14,326.01 94.57,327.48 94.98,329.59 93.10,328.55 91.22,329.59 91.63,327.48 90.06,326.01 92.19,325.75" fill="#111" stroke="#111" stroke-width="0.5" stroke-linejoin="round"/>
<line x1="78.40" y1="335.00" x2="92.40" y2="335.00" stroke="#626262" stroke-width="1.4"/>
<polygon points="108.90,351.90 109.81,353.85 111.94,354.11 110.37,355.58 110.78,357.69 108.90,356.65 107.02,357.69 107.43,355.58 105.86,354.11 107.99,353.85" fill="#111" stroke="#111" stroke-width="0.5" stroke-linejoin="round"/>
<polygon points="115.30,351.90 116.21,353.85 118.34,354.11 116.77,355.58 117.18,357.69 115.30,356.65 113.42,357.69 113.83,355.58 112.26,354.11 114.39,353.85" fill="#111" stroke="#111" stroke-width="0.5" stroke-linejoin="round"/>
<polygon points="121.70,351.90 122.61,353.85 124.74,354.11 123.17,355.58 123.58,357.69 121.70,356.65 119.82,357.69 120.23,355.58 118.66,354.11 120.79,353.85" fill="#111" stroke="#111" stroke-width="0.5" stroke-linejoin="round"/>
<polygon points="128.10,351.90 129.01,353.85 131.14,354.11 129.57,355.58 129.98,357.69 128.10,356.65 126.22,357.69 126.63,355.58 125.06,354.11 127.19,353.85" fill="#111" stroke="#111" stroke-width="0.5" stroke-linejoin="round"/>
<line x1="116.10" y1="364.50" x2="129.70" y2="364.50" stroke="#626262" stroke-width="1.4"/>
<text x="39.80" y="471.80" font-size="12" text-anchor="start" fill="#1a1a1a" font-style="italic">Alb:</text>
<line x1="79.60" y1="463.60" x2="82.80" y2="463.60" stroke="#222" stroke-width="1.2"/>
<line x1="96.25" y1="463.60" x2="101.75" y2="463.60" stroke="#222" stroke-width="1.2"/>
<line x1="99.00" y1="460.80" x2="99.00" y2="466.40" stroke="#222" stroke-width="1.2"/>
<line x1="115.00" y1="463.60" x2="118.20" y2="463.60" stroke="#222" stroke-width="1.2"/>
<line x1="132.25" y1="463.60" x2="137.75" y2="463.60" stroke="#222" stroke-width="1.2"/>
<line x1="135.00" y1="460.80" x2="135.00" y2="466.40" stroke="#222" stroke-width="1.2"/>
<line x1="164.40" y1="463.60" x2="167.60" y2="463.60" stroke="#222" stroke-width="1.2"/>
<line x1="180.85" y1="463.60" x2="186.35" y2="463.60" stroke="#222" stroke-width="1.2"/>
<line x1="183.60" y1="460.80" x2="183.60" y2="466.40" stroke="#222" stroke-width="1.2"/>
<line x1="199.50" y1="463.60" x2="202.70" y2="463.60" stroke="#222" stroke-width="1.2"/>
<line x1="215.85" y1="463.60" x2="221.35" y2="463.60" stroke="#222" stroke-width="1.2"/>
<line x1="218.60" y1="460.80" x2="218.60" y2="466.40" stroke="#222" stroke-width="1.2"/>
<line x1="249.00" y1="463.60" x2="252.20" y2="463.60" stroke="#222" stroke-width="1.2"/>
<line x1="265.35" y1="463.60" x2="270.85" y2="463.60" stroke="#222" stroke-width="1.2"/>
<line x1="268.10" y1="460.80" x2="268.10" y2="466.40" stroke="#222" stroke-width="1.2"/>
<line x1="284.00" y1="463.60" x2="287.20" y2="463.60" stroke="#222" stroke-width="1.2"/>
<line x1="300.65" y1="463.60" x2="306.15" y2="463.60" stroke="#222" stroke-width="1.2"/>
<line x1="303.40" y1="460.80" x2="303.40" y2="466.40" stroke="#222" stroke-width="1.2"/>
<line x1="74.60" y1="469.70" x2="104.00" y2="469.70" stroke="#333" stroke-width="1.2"/>
<line x1="108.10" y1="469.70" x2="137.20" y2="469.70" stroke="#333" stroke-width="1.2"/>
<line x1="161.00" y1="469.70" x2="190.30" y2="469.70" stroke="#333" stroke-width="1.2"/>
<line x1="194.10" y1="469.70" x2="223.40" y2="469.70" stroke="#333" stroke-width="1.2"/>
<line x1="246.10" y1="469.70" x2="275.40" y2="469.70" stroke="#333" stroke-width="1.2"/>
<line x1="279.10" y1="469.70" x2="308.30" y2="469.70" stroke="#333" stroke-width="1.2"/>
<text x="91.80" y="482.60" font-size="12.4" text-anchor="middle" fill="#1a1a1a">F</text>
<text x="124.80" y="482.60" font-size="12.4" text-anchor="middle" fill="#1a1a1a">M</text>
<text x="178.80" y="482.60" font-size="12.4" text-anchor="middle" fill="#1a1a1a">F</text>
<text x="211.60" y="482.60" font-size="12.4" text-anchor="middle" fill="#1a1a1a">M</text>
<text x="264.60" y="482.60" font-size="12.4" text-anchor="middle" fill="#1a1a1a">F</text>
<text x="297.60" y="482.60" font-size="12.4" text-anchor="middle" fill="#1a1a1a">M</text>
<text x="335.00" y="267.40" font-size="17" text-anchor="start" fill="#000" font-weight="bold">D</text>
<text x="455.50" y="278.70" font-size="13.3" font-style="italic" fill="#1a1a1a">Slc30a10</text>
<text x="511.40" y="274.10" font-size="7.7" font-style="italic" fill="#2a2a2a" style="stroke:none">lox/lox</text>
<text x="537.60" y="278.70" font-size="13.3" font-style="italic" fill="#1a1a1a">Slc40a1</text>
<text x="584.40" y="274.10" font-size="7.7" font-style="italic" fill="#2a2a2a" style="stroke:none">fl/fl</text>
<line x1="394.50" y1="285.90" x2="394.50" y2="455.20" stroke="#111" stroke-width="1.6"/>
<line x1="388.50" y1="286.50" x2="394.50" y2="286.50" stroke="#111" stroke-width="1.5"/>
<text x="386.40" y="291.00" font-size="12.5" text-anchor="end" fill="#1a1a1a">2.0</text>
<line x1="388.50" y1="328.50" x2="394.50" y2="328.50" stroke="#111" stroke-width="1.5"/>
<text x="386.40" y="333.00" font-size="12.5" text-anchor="end" fill="#1a1a1a">1.5</text>
<line x1="388.50" y1="370.40" x2="394.50" y2="370.40" stroke="#111" stroke-width="1.5"/>
<text x="386.40" y="374.90" font-size="12.5" text-anchor="end" fill="#1a1a1a">1.0</text>
<line x1="388.50" y1="412.40" x2="394.50" y2="412.40" stroke="#111" stroke-width="1.5"/>
<text x="386.40" y="416.90" font-size="12.5" text-anchor="end" fill="#1a1a1a">0.5</text>
<line x1="388.50" y1="454.30" x2="394.50" y2="454.30" stroke="#111" stroke-width="1.5"/>
<text x="386.40" y="458.80" font-size="12.5" text-anchor="end" fill="#1a1a1a">0.0</text>
<text x="0" y="0" font-size="13.4" text-anchor="middle" fill="#1a1a1a" font-style="italic" transform="translate(345.70,369.10) rotate(-90)">Slc40a1/Hprt1</text>
<text x="0" y="0" font-size="13.4" text-anchor="middle" fill="#1a1a1a" transform="translate(362.00,369.30) rotate(-90)">(relative units)</text>
<text x="432.00" y="297.00" font-size="12" text-anchor="middle" fill="#1a1a1a">Liver</text>
<text x="520.20" y="297.00" font-size="12" text-anchor="middle" fill="#1a1a1a">Brain</text>
<text x="611.30" y="297.00" font-size="12" text-anchor="middle" fill="#1a1a1a">Duodenum</text>
<line x1="477.80" y1="284.40" x2="477.80" y2="450.00" stroke="#8a8a8a" stroke-width="1.2" stroke-dasharray="4,3.4"/>
<line x1="563.30" y1="284.40" x2="563.30" y2="450.00" stroke="#8a8a8a" stroke-width="1.2" stroke-dasharray="4,3.4"/>
<rect x="402.25" y="371.00" width="13.00" height="83.20" fill="#adadad" stroke="#2e2e2e" stroke-width="1"/>
<rect x="420.00" y="421.70" width="12.75" height="32.50" fill="#fba3a3" stroke="#52282a" stroke-width="1"/>
<rect x="438.00" y="408.50" width="12.75" height="45.70" fill="#adadad" stroke="#2e2e2e" stroke-width="1"/>
<rect x="455.50" y="443.20" width="12.25" height="11.00" fill="#fba3a3" stroke="#52282a" stroke-width="1"/>
<rect x="487.50" y="371.20" width="13.40" height="83.00" fill="#adadad" stroke="#2e2e2e" stroke-width="1"/>
<rect x="505.00" y="375.50" width="13.80" height="78.70" fill="#fba3a3" stroke="#52282a" stroke-width="1"/>
<rect x="523.00" y="372.00" width="13.10" height="82.20" fill="#adadad" stroke="#2e2e2e" stroke-width="1"/>
<rect x="540.90" y="375.00" width="13.10" height="79.20" fill="#fba3a3" stroke="#52282a" stroke-width="1"/>
<rect x="572.50" y="371.00" width="13.30" height="83.20" fill="#adadad" stroke="#2e2e2e" stroke-width="1"/>
<rect x="590.50" y="356.80" width="13.20" height="97.40" fill="#fba3a3" stroke="#52282a" stroke-width="1"/>
<rect x="607.90" y="371.50" width="13.10" height="82.70" fill="#adadad" stroke="#2e2e2e" stroke-width="1"/>
<rect x="625.80" y="374.70" width="13.40" height="79.50" fill="#fba3a3" stroke="#52282a" stroke-width="1"/>
<line x1="393.70" y1="454.20" x2="647.40" y2="454.20" stroke="#111" stroke-width="1.7"/>
<circle cx="408.70" cy="354.10" r="2.2" fill="#ffffff" stroke="#5a5a5a" stroke-width="1.15"/>
<circle cx="408.70" cy="362.50" r="2.2" fill="#ffffff" stroke="#5a5a5a" stroke-width="1.15"/>
<circle cx="403.00" cy="379.00" r="2.2" fill="#ffffff" stroke="#5a5a5a" stroke-width="1.15"/>
<circle cx="414.00" cy="376.10" r="2.2" fill="#ffffff" stroke="#5a5a5a" stroke-width="1.15"/>
<circle cx="408.70" cy="373.70" r="2.2" fill="#ffffff" stroke="#5a5a5a" stroke-width="1.15"/>
<circle cx="405.00" cy="375.30" r="2.2" fill="#ffffff" stroke="#5a5a5a" stroke-width="1.15"/>
<circle cx="431.00" cy="410.30" r="2.2" fill="#d9485e" stroke="#5a0a1c" stroke-width="1.15"/>
<circle cx="426.00" cy="414.30" r="2.2" fill="#d9485e" stroke="#5a0a1c" stroke-width="1.15"/>
<circle cx="421.00" cy="421.10" r="2.2" fill="#d9485e" stroke="#5a0a1c" stroke-width="1.15"/>
<circle cx="426.00" cy="420.30" r="2.2" fill="#d9485e" stroke="#5a0a1c" stroke-width="1.15"/>
<circle cx="431.00" cy="421.10" r="2.2" fill="#d9485e" stroke="#5a0a1c" stroke-width="1.15"/>
<circle cx="423.00" cy="428.00" r="2.2" fill="#d9485e" stroke="#5a0a1c" stroke-width="1.15"/>
<circle cx="429.00" cy="427.50" r="2.2" fill="#d9485e" stroke="#5a0a1c" stroke-width="1.15"/>
<polygon points="439.50,401.70 437.45,406.25 441.55,406.25" fill="#ffffff" stroke="#5a5a5a" stroke-width="1.15" stroke-linejoin="round"/>
<polygon points="444.40,405.70 442.35,410.25 446.45,410.25" fill="#ffffff" stroke="#5a5a5a" stroke-width="1.15" stroke-linejoin="round"/>
<polygon points="449.00,406.50 446.95,411.05 451.05,411.05" fill="#ffffff" stroke="#5a5a5a" stroke-width="1.15" stroke-linejoin="round"/>
<polygon points="439.50,411.30 437.45,415.85 441.55,415.85" fill="#ffffff" stroke="#5a5a5a" stroke-width="1.15" stroke-linejoin="round"/>
<polygon points="457.00,437.80 454.95,442.35 459.05,442.35" fill="#b54057" stroke="#5a0a1c" stroke-width="1.15" stroke-linejoin="round"/>
<polygon points="462.00,437.30 459.95,441.85 464.05,441.85" fill="#b54057" stroke="#5a0a1c" stroke-width="1.15" stroke-linejoin="round"/>
<polygon points="466.00,438.30 463.95,442.85 468.05,442.85" fill="#b54057" stroke="#5a0a1c" stroke-width="1.15" stroke-linejoin="round"/>
<polygon points="459.00,441.50 456.95,446.05 461.05,446.05" fill="#b54057" stroke="#5a0a1c" stroke-width="1.15" stroke-linejoin="round"/>
<polygon points="465.00,441.80 462.95,446.35 467.05,446.35" fill="#b54057" stroke="#5a0a1c" stroke-width="1.15" stroke-linejoin="round"/>
<circle cx="494.00" cy="346.00" r="2.2" fill="#ffffff" stroke="#5a5a5a" stroke-width="1.15"/>
<circle cx="489.00" cy="358.80" r="2.2" fill="#ffffff" stroke="#5a5a5a" stroke-width="1.15"/>
<circle cx="499.00" cy="361.40" r="2.2" fill="#ffffff" stroke="#5a5a5a" stroke-width="1.15"/>
<circle cx="494.00" cy="367.80" r="2.2" fill="#ffffff" stroke="#5a5a5a" stroke-width="1.15"/>
<circle cx="494.00" cy="390.30" r="2.2" fill="#ffffff" stroke="#5a5a5a" stroke-width="1.15"/>
<circle cx="494.00" cy="398.30" r="2.2" fill="#ffffff" stroke="#5a5a5a" stroke-width="1.15"/>
<circle cx="511.50" cy="350.20" r="2.2" fill="#d9485e" stroke="#5a0a1c" stroke-width="1.15"/>
<circle cx="511.50" cy="359.30" r="2.2" fill="#d9485e" stroke="#5a0a1c" stroke-width="1.15"/>
<circle cx="507.00" cy="371.70" r="2.2" fill="#d9485e" stroke="#5a0a1c" stroke-width="1.15"/>
<circle cx="507.00" cy="377.00" r="2.2" fill="#d9485e" stroke="#5a0a1c" stroke-width="1.15"/>
<circle cx="516.50" cy="374.60" r="2.2" fill="#d9485e" stroke="#5a0a1c" stroke-width="1.15"/>
<circle cx="511.50" cy="387.70" r="2.2" fill="#d9485e" stroke="#5a0a1c" stroke-width="1.15"/>
<circle cx="511.50" cy="399.90" r="2.2" fill="#d9485e" stroke="#5a0a1c" stroke-width="1.15"/>
<polygon points="529.50,360.80 527.45,365.35 531.55,365.35" fill="#ffffff" stroke="#5a5a5a" stroke-width="1.15" stroke-linejoin="round"/>
<polygon points="534.00,367.30 531.95,371.85 536.05,371.85" fill="#ffffff" stroke="#5a5a5a" stroke-width="1.15" stroke-linejoin="round"/>
<polygon points="524.50,372.90 522.45,377.45 526.55,377.45" fill="#ffffff" stroke="#5a5a5a" stroke-width="1.15" stroke-linejoin="round"/>
<polygon points="534.00,372.10 531.95,376.65 536.05,376.65" fill="#ffffff" stroke="#5a5a5a" stroke-width="1.15" stroke-linejoin="round"/>
<polygon points="529.50,369.70 527.45,374.25 531.55,374.25" fill="#ffffff" stroke="#5a5a5a" stroke-width="1.15" stroke-linejoin="round"/>
<polygon points="542.50,357.30 540.45,361.85 544.55,361.85" fill="#b54057" stroke="#5a0a1c" stroke-width="1.15" stroke-linejoin="round"/>
<polygon points="552.00,353.60 549.95,358.15 554.05,358.15" fill="#b54057" stroke="#5a0a1c" stroke-width="1.15" stroke-linejoin="round"/>
<polygon points="552.00,358.90 549.95,363.45 554.05,363.45" fill="#b54057" stroke="#5a0a1c" stroke-width="1.15" stroke-linejoin="round"/>
<polygon points="547.50,360.50 545.45,365.05 549.55,365.05" fill="#b54057" stroke="#5a0a1c" stroke-width="1.15" stroke-linejoin="round"/>
<polygon points="547.50,387.80 545.45,392.35 549.55,392.35" fill="#b54057" stroke="#5a0a1c" stroke-width="1.15" stroke-linejoin="round"/>
<polygon points="547.50,413.80 545.45,418.35 549.55,418.35" fill="#b54057" stroke="#5a0a1c" stroke-width="1.15" stroke-linejoin="round"/>
<circle cx="574.00" cy="332.50" r="2.2" fill="#ffffff" stroke="#5a5a5a" stroke-width="1.15"/>
<circle cx="584.00" cy="328.80" r="2.2" fill="#ffffff" stroke="#5a5a5a" stroke-width="1.15"/>
<circle cx="579.00" cy="361.00" r="2.2" fill="#ffffff" stroke="#5a5a5a" stroke-width="1.15"/>
<circle cx="579.00" cy="380.30" r="2.2" fill="#ffffff" stroke="#5a5a5a" stroke-width="1.15"/>
<circle cx="574.00" cy="411.40" r="2.2" fill="#ffffff" stroke="#5a5a5a" stroke-width="1.15"/>
<circle cx="584.00" cy="408.20" r="2.2" fill="#ffffff" stroke="#5a5a5a" stroke-width="1.15"/>
<circle cx="592.00" cy="322.00" r="2.2" fill="#d9485e" stroke="#5a0a1c" stroke-width="1.15"/>
<circle cx="602.00" cy="322.40" r="2.2" fill="#d9485e" stroke="#5a0a1c" stroke-width="1.15"/>
<circle cx="597.00" cy="334.90" r="2.2" fill="#d9485e" stroke="#5a0a1c" stroke-width="1.15"/>
<circle cx="597.00" cy="347.20" r="2.2" fill="#d9485e" stroke="#5a0a1c" stroke-width="1.15"/>
<circle cx="592.00" cy="385.80" r="2.2" fill="#d9485e" stroke="#5a0a1c" stroke-width="1.15"/>
<circle cx="602.00" cy="386.70" r="2.2" fill="#d9485e" stroke="#5a0a1c" stroke-width="1.15"/>
<circle cx="597.00" cy="391.90" r="2.2" fill="#d9485e" stroke="#5a0a1c" stroke-width="1.15"/>
<polygon points="609.50,358.50 607.45,363.05 611.55,363.05" fill="#ffffff" stroke="#5a5a5a" stroke-width="1.15" stroke-linejoin="round"/>
<polygon points="619.50,359.70 617.45,364.25 621.55,364.25" fill="#ffffff" stroke="#5a5a5a" stroke-width="1.15" stroke-linejoin="round"/>
<polygon points="609.50,364.00 607.45,368.55 611.55,368.55" fill="#ffffff" stroke="#5a5a5a" stroke-width="1.15" stroke-linejoin="round"/>
<polygon points="614.50,376.80 612.45,381.35 616.55,381.35" fill="#ffffff" stroke="#5a5a5a" stroke-width="1.15" stroke-linejoin="round"/>
<polygon points="614.50,382.60 612.45,387.15 616.55,387.15" fill="#ffffff" stroke="#5a5a5a" stroke-width="1.15" stroke-linejoin="round"/>
<polygon points="632.50,344.70 630.45,349.25 634.55,349.25" fill="#b54057" stroke="#5a0a1c" stroke-width="1.15" stroke-linejoin="round"/>
<polygon points="627.50,365.60 625.45,370.15 629.55,370.15" fill="#b54057" stroke="#5a0a1c" stroke-width="1.15" stroke-linejoin="round"/>
<polygon points="637.50,367.20 635.45,371.75 639.55,371.75" fill="#b54057" stroke="#5a0a1c" stroke-width="1.15" stroke-linejoin="round"/>
<polygon points="627.50,380.10 625.45,384.65 629.55,384.65" fill="#b54057" stroke="#5a0a1c" stroke-width="1.15" stroke-linejoin="round"/>
<polygon points="637.50,382.10 635.45,386.65 639.55,386.65" fill="#b54057" stroke="#5a0a1c" stroke-width="1.15" stroke-linejoin="round"/>
<polygon points="632.50,391.30 630.45,395.85 634.55,395.85" fill="#b54057" stroke="#5a0a1c" stroke-width="1.15" stroke-linejoin="round"/>
<polygon points="402.65,334.30 403.56,336.25 405.69,336.51 404.12,337.98 404.53,340.09 402.65,339.05 400.77,340.09 401.18,337.98 399.61,336.51 401.74,336.25" fill="#111" stroke="#111" stroke-width="0.5" stroke-linejoin="round"/>
<polygon points="409.05,334.30 409.96,336.25 412.09,336.51 410.52,337.98 410.93,340.09 409.05,339.05 407.17,340.09 407.58,337.98 406.01,336.51 408.14,336.25" fill="#111" stroke="#111" stroke-width="0.5" stroke-linejoin="round"/>
<polygon points="415.45,334.30 416.36,336.25 418.49,336.51 416.92,337.98 417.33,340.09 415.45,339.05 413.57,340.09 413.98,337.98 412.41,336.51 414.54,336.25" fill="#111" stroke="#111" stroke-width="0.5" stroke-linejoin="round"/>
<polygon points="421.85,334.30 422.76,336.25 424.89,336.51 423.32,337.98 423.73,340.09 421.85,339.05 419.97,340.09 420.38,337.98 418.81,336.51 420.94,336.25" fill="#111" stroke="#111" stroke-width="0.5" stroke-linejoin="round"/>
<line x1="408.25" y1="346.25" x2="424.50" y2="346.25" stroke="#626262" stroke-width="1.4"/>
<polygon points="437.65,382.30 438.56,384.25 440.69,384.51 439.12,385.98 439.53,388.09 437.65,387.05 435.77,388.09 436.18,385.98 434.61,384.51 436.74,384.25" fill="#111" stroke="#111" stroke-width="0.5" stroke-linejoin="round"/>
<polygon points="444.05,382.30 444.96,384.25 447.09,384.51 445.52,385.98 445.93,388.09 444.05,387.05 442.17,388.09 442.58,385.98 441.01,384.51 443.14,384.25" fill="#111" stroke="#111" stroke-width="0.5" stroke-linejoin="round"/>
<polygon points="450.45,382.30 451.36,384.25 453.49,384.51 451.92,385.98 452.33,388.09 450.45,387.05 448.57,388.09 448.98,385.98 447.41,384.51 449.54,384.25" fill="#111" stroke="#111" stroke-width="0.5" stroke-linejoin="round"/>
<polygon points="456.85,382.30 457.76,384.25 459.89,384.51 458.32,385.98 458.73,388.09 456.85,387.05 454.97,388.09 455.38,385.98 453.81,384.51 455.94,384.25" fill="#111" stroke="#111" stroke-width="0.5" stroke-linejoin="round"/>
<line x1="443.75" y1="393.75" x2="460.00" y2="393.75" stroke="#626262" stroke-width="1.4"/>
<text x="366.30" y="471.30" font-size="12" text-anchor="start" fill="#1a1a1a" font-style="italic">Alb:</text>
<line x1="407.10" y1="465.00" x2="410.30" y2="465.00" stroke="#222" stroke-width="1.2"/>
<line x1="423.65" y1="465.00" x2="429.15" y2="465.00" stroke="#222" stroke-width="1.2"/>
<line x1="426.40" y1="462.20" x2="426.40" y2="467.80" stroke="#222" stroke-width="1.2"/>
<line x1="442.80" y1="465.00" x2="446.00" y2="465.00" stroke="#222" stroke-width="1.2"/>
<line x1="458.85" y1="465.00" x2="464.35" y2="465.00" stroke="#222" stroke-width="1.2"/>
<line x1="461.60" y1="462.20" x2="461.60" y2="467.80" stroke="#222" stroke-width="1.2"/>
<line x1="492.60" y1="465.00" x2="495.80" y2="465.00" stroke="#222" stroke-width="1.2"/>
<line x1="509.15" y1="465.00" x2="514.65" y2="465.00" stroke="#222" stroke-width="1.2"/>
<line x1="511.90" y1="462.20" x2="511.90" y2="467.80" stroke="#222" stroke-width="1.2"/>
<line x1="527.90" y1="465.00" x2="531.10" y2="465.00" stroke="#222" stroke-width="1.2"/>
<line x1="544.75" y1="465.00" x2="550.25" y2="465.00" stroke="#222" stroke-width="1.2"/>
<line x1="547.50" y1="462.20" x2="547.50" y2="467.80" stroke="#222" stroke-width="1.2"/>
<line x1="577.60" y1="465.00" x2="580.80" y2="465.00" stroke="#222" stroke-width="1.2"/>
<line x1="594.35" y1="465.00" x2="599.85" y2="465.00" stroke="#222" stroke-width="1.2"/>
<line x1="597.10" y1="462.20" x2="597.10" y2="467.80" stroke="#222" stroke-width="1.2"/>
<line x1="612.90" y1="465.00" x2="616.10" y2="465.00" stroke="#222" stroke-width="1.2"/>
<line x1="629.75" y1="465.00" x2="635.25" y2="465.00" stroke="#222" stroke-width="1.2"/>
<line x1="632.50" y1="462.20" x2="632.50" y2="467.80" stroke="#222" stroke-width="1.2"/>
<line x1="402.80" y1="470.50" x2="431.60" y2="470.50" stroke="#333" stroke-width="1.2"/>
<line x1="436.20" y1="470.50" x2="465.40" y2="470.50" stroke="#333" stroke-width="1.2"/>
<line x1="489.50" y1="470.50" x2="518.80" y2="470.50" stroke="#333" stroke-width="1.2"/>
<line x1="522.40" y1="470.50" x2="551.80" y2="470.50" stroke="#333" stroke-width="1.2"/>
<line x1="575.40" y1="470.50" x2="604.50" y2="470.50" stroke="#333" stroke-width="1.2"/>
<line x1="607.90" y1="470.50" x2="637.60" y2="470.50" stroke="#333" stroke-width="1.2"/>
<text x="419.00" y="485.00" font-size="12.4" text-anchor="middle" fill="#1a1a1a">F</text>
<text x="451.00" y="485.00" font-size="12.4" text-anchor="middle" fill="#1a1a1a">M</text>
<text x="501.70" y="485.00" font-size="12.4" text-anchor="middle" fill="#1a1a1a">F</text>
<text x="534.20" y="485.00" font-size="12.4" text-anchor="middle" fill="#1a1a1a">M</text>
<text x="589.30" y="485.00" font-size="12.4" text-anchor="middle" fill="#1a1a1a">F</text>
<text x="622.00" y="485.00" font-size="12.4" text-anchor="middle" fill="#1a1a1a">M</text>
<text x="9.80" y="512.90" font-size="17" text-anchor="start" fill="#000" font-weight="bold">E</text>
<text x="123.50" y="522.70" font-size="13.3" font-style="italic" fill="#1a1a1a">Slc30a10</text>
<text x="179.40" y="518.10" font-size="7.7" font-style="italic" fill="#2a2a2a" style="stroke:none">lox/lox</text>
<text x="205.60" y="522.70" font-size="13.3" font-style="italic" fill="#1a1a1a">Slc40a1</text>
<text x="252.40" y="518.10" font-size="7.7" font-style="italic" fill="#2a2a2a" style="stroke:none">fl/fl</text>
<line x1="67.00" y1="531.70" x2="67.00" y2="700.40" stroke="#111" stroke-width="1.6"/>
<line x1="61.00" y1="532.30" x2="67.00" y2="532.30" stroke="#111" stroke-width="1.5"/>
<text x="58.90" y="536.80" font-size="12.5" text-anchor="end" fill="#1a1a1a">8</text>
<line x1="61.00" y1="574.10" x2="67.00" y2="574.10" stroke="#111" stroke-width="1.5"/>
<text x="58.90" y="578.60" font-size="12.5" text-anchor="end" fill="#1a1a1a">6</text>
<line x1="61.00" y1="615.90" x2="67.00" y2="615.90" stroke="#111" stroke-width="1.5"/>
<text x="58.90" y="620.40" font-size="12.5" text-anchor="end" fill="#1a1a1a">4</text>
<line x1="61.00" y1="657.70" x2="67.00" y2="657.70" stroke="#111" stroke-width="1.5"/>
<text x="58.90" y="662.20" font-size="12.5" text-anchor="end" fill="#1a1a1a">2</text>
<line x1="61.00" y1="699.50" x2="67.00" y2="699.50" stroke="#111" stroke-width="1.5"/>
<text x="58.90" y="704.00" font-size="12.5" text-anchor="end" fill="#1a1a1a">0</text>
<text x="0" y="0" font-size="13.4" text-anchor="middle" fill="#1a1a1a" transform="translate(44.50,616.80) rotate(-90)">µg Mn/g tissue</text>
<text x="110.75" y="541.30" font-size="12" text-anchor="middle" fill="#1a1a1a">Liver</text>
<text x="192.30" y="541.30" font-size="12" text-anchor="middle" fill="#1a1a1a">Bone</text>
<text x="279.10" y="541.30" font-size="12" text-anchor="middle" fill="#1a1a1a">Brain</text>
<line x1="146.50" y1="532.60" x2="146.50" y2="696.00" stroke="#8a8a8a" stroke-width="1.2" stroke-dasharray="4,3.4"/>
<line x1="235.10" y1="532.60" x2="235.10" y2="696.00" stroke="#8a8a8a" stroke-width="1.2" stroke-dasharray="4,3.4"/>
<rect x="75.00" y="640.70" width="12.50" height="58.80" fill="#adadad" stroke="#2e2e2e" stroke-width="1"/>
<rect x="92.25" y="635.50" width="12.75" height="64.00" fill="#fba3a3" stroke="#52282a" stroke-width="1"/>
<rect x="110.00" y="663.10" width="12.50" height="36.40" fill="#adadad" stroke="#2e2e2e" stroke-width="1"/>
<rect x="128.00" y="627.80" width="12.00" height="71.70" fill="#fba3a3" stroke="#52282a" stroke-width="1"/>
<rect x="159.60" y="676.70" width="12.20" height="22.80" fill="#adadad" stroke="#2e2e2e" stroke-width="1"/>
<rect x="177.10" y="668.50" width="13.00" height="31.00" fill="#fba3a3" stroke="#52282a" stroke-width="1"/>
<rect x="194.80" y="681.00" width="12.70" height="18.50" fill="#adadad" stroke="#2e2e2e" stroke-width="1"/>
<rect x="211.90" y="669.50" width="12.70" height="30.00" fill="#fba3a3" stroke="#52282a" stroke-width="1"/>
<rect x="244.80" y="688.50" width="12.40" height="11.00" fill="#adadad" stroke="#2e2e2e" stroke-width="1"/>
<rect x="261.90" y="688.00" width="12.70" height="11.50" fill="#fba3a3" stroke="#52282a" stroke-width="1"/>
<rect x="279.60" y="690.70" width="12.80" height="8.80" fill="#adadad" stroke="#2e2e2e" stroke-width="1"/>
<rect x="297.10" y="684.50" width="13.00" height="15.00" fill="#fba3a3" stroke="#52282a" stroke-width="1"/>
<line x1="66.20" y1="699.50" x2="318.90" y2="699.50" stroke="#111" stroke-width="1.7"/>
<circle cx="81.00" cy="625.80" r="2.2" fill="#ffffff" stroke="#5a5a5a" stroke-width="1.15"/>
<circle cx="81.00" cy="632.20" r="2.2" fill="#ffffff" stroke="#5a5a5a" stroke-width="1.15"/>
<circle cx="76.00" cy="644.80" r="2.2" fill="#ffffff" stroke="#5a5a5a" stroke-width="1.15"/>
<circle cx="86.00" cy="644.80" r="2.2" fill="#ffffff" stroke="#5a5a5a" stroke-width="1.15"/>
<circle cx="81.00" cy="641.90" r="2.2" fill="#ffffff" stroke="#5a5a5a" stroke-width="1.15"/>
<circle cx="98.60" cy="616.20" r="2.2" fill="#d9485e" stroke="#5a0a1c" stroke-width="1.15"/>
<circle cx="98.60" cy="621.00" r="2.2" fill="#d9485e" stroke="#5a0a1c" stroke-width="1.15"/>
<circle cx="94.00" cy="631.90" r="2.2" fill="#d9485e" stroke="#5a0a1c" stroke-width="1.15"/>
<circle cx="103.50" cy="633.50" r="2.2" fill="#d9485e" stroke="#5a0a1c" stroke-width="1.15"/>
<circle cx="98.60" cy="638.30" r="2.2" fill="#d9485e" stroke="#5a0a1c" stroke-width="1.15"/>
<circle cx="94.00" cy="651.50" r="2.2" fill="#d9485e" stroke="#5a0a1c" stroke-width="1.15"/>
<circle cx="103.50" cy="651.20" r="2.2" fill="#d9485e" stroke="#5a0a1c" stroke-width="1.15"/>
<polygon points="116.30,651.40 114.25,655.95 118.35,655.95" fill="#ffffff" stroke="#5a5a5a" stroke-width="1.15" stroke-linejoin="round"/>
<polygon points="111.50,658.30 109.45,662.85 113.55,662.85" fill="#ffffff" stroke="#5a5a5a" stroke-width="1.15" stroke-linejoin="round"/>
<polygon points="121.00,657.80 118.95,662.35 123.05,662.35" fill="#ffffff" stroke="#5a5a5a" stroke-width="1.15" stroke-linejoin="round"/>
<polygon points="121.00,662.60 118.95,667.15 123.05,667.15" fill="#ffffff" stroke="#5a5a5a" stroke-width="1.15" stroke-linejoin="round"/>
<polygon points="116.30,669.90 114.25,674.45 118.35,674.45" fill="#ffffff" stroke="#5a5a5a" stroke-width="1.15" stroke-linejoin="round"/>
<polygon points="134.00,571.10 131.95,575.65 136.05,575.65" fill="#b54057" stroke="#5a0a1c" stroke-width="1.15" stroke-linejoin="round"/>
<polygon points="134.00,594.70 131.95,599.25 136.05,599.25" fill="#b54057" stroke="#5a0a1c" stroke-width="1.15" stroke-linejoin="round"/>
<polygon points="134.00,634.90 131.95,639.45 136.05,639.45" fill="#b54057" stroke="#5a0a1c" stroke-width="1.15" stroke-linejoin="round"/>
<polygon points="134.00,642.90 131.95,647.45 136.05,647.45" fill="#b54057" stroke="#5a0a1c" stroke-width="1.15" stroke-linejoin="round"/>
<polygon points="129.50,653.80 127.45,658.35 131.55,658.35" fill="#b54057" stroke="#5a0a1c" stroke-width="1.15" stroke-linejoin="round"/>
<polygon points="138.50,653.50 136.45,658.05 140.55,658.05" fill="#b54057" stroke="#5a0a1c" stroke-width="1.15" stroke-linejoin="round"/>
<circle cx="161.00" cy="672.60" r="2.2" fill="#ffffff" stroke="#5a5a5a" stroke-width="1.15"/>
<circle cx="171.00" cy="673.10" r="2.2" fill="#ffffff" stroke="#5a5a5a" stroke-width="1.15"/>
<circle cx="164.00" cy="676.00" r="2.2" fill="#ffffff" stroke="#5a5a5a" stroke-width="1.15"/>
<circle cx="168.00" cy="676.30" r="2.2" fill="#ffffff" stroke="#5a5a5a" stroke-width="1.15"/>
<circle cx="163.00" cy="680.00" r="2.2" fill="#ffffff" stroke="#5a5a5a" stroke-width="1.15"/>
<circle cx="178.50" cy="664.20" r="2.2" fill="#d9485e" stroke="#5a0a1c" stroke-width="1.15"/>
<circle cx="183.50" cy="661.70" r="2.2" fill="#d9485e" stroke="#5a0a1c" stroke-width="1.15"/>
<circle cx="188.50" cy="661.70" r="2.2" fill="#d9485e" stroke="#5a0a1c" stroke-width="1.15"/>
<circle cx="188.50" cy="667.40" r="2.2" fill="#d9485e" stroke="#5a0a1c" stroke-width="1.15"/>
<circle cx="183.50" cy="670.30" r="2.2" fill="#d9485e" stroke="#5a0a1c" stroke-width="1.15"/>
<circle cx="178.50" cy="677.50" r="2.2" fill="#d9485e" stroke="#5a0a1c" stroke-width="1.15"/>
<circle cx="188.50" cy="675.20" r="2.2" fill="#d9485e" stroke="#5a0a1c" stroke-width="1.15"/>
<polygon points="199.00,675.20 196.95,679.75 201.05,679.75" fill="#ffffff" stroke="#5a5a5a" stroke-width="1.15" stroke-linejoin="round"/>
<polygon points="205.00,675.80 202.95,680.35 207.05,680.35" fill="#ffffff" stroke="#5a5a5a" stroke-width="1.15" stroke-linejoin="round"/>
<polygon points="197.00,679.80 194.95,684.35 199.05,684.35" fill="#ffffff" stroke="#5a5a5a" stroke-width="1.15" stroke-linejoin="round"/>
<polygon points="201.00,678.10 198.95,682.65 203.05,682.65" fill="#ffffff" stroke="#5a5a5a" stroke-width="1.15" stroke-linejoin="round"/>
<polygon points="218.30,660.90 216.25,665.45 220.35,665.45" fill="#b54057" stroke="#5a0a1c" stroke-width="1.15" stroke-linejoin="round"/>
<polygon points="213.50,663.80 211.45,668.35 215.55,668.35" fill="#b54057" stroke="#5a0a1c" stroke-width="1.15" stroke-linejoin="round"/>
<polygon points="223.00,664.40 220.95,668.95 225.05,668.95" fill="#b54057" stroke="#5a0a1c" stroke-width="1.15" stroke-linejoin="round"/>
<polygon points="216.00,667.20 213.95,671.75 218.05,671.75" fill="#b54057" stroke="#5a0a1c" stroke-width="1.15" stroke-linejoin="round"/>
<polygon points="221.00,667.20 218.95,671.75 223.05,671.75" fill="#b54057" stroke="#5a0a1c" stroke-width="1.15" stroke-linejoin="round"/>
<polygon points="213.50,670.10 211.45,674.65 215.55,674.65" fill="#b54057" stroke="#5a0a1c" stroke-width="1.15" stroke-linejoin="round"/>
<polygon points="221.00,670.10 218.95,674.65 223.05,674.65" fill="#b54057" stroke="#5a0a1c" stroke-width="1.15" stroke-linejoin="round"/>
<circle cx="247.00" cy="687.00" r="2.2" fill="#ffffff" stroke="#5a5a5a" stroke-width="1.15"/>
<circle cx="251.00" cy="688.00" r="2.2" fill="#ffffff" stroke="#5a5a5a" stroke-width="1.15"/>
<circle cx="255.00" cy="687.00" r="2.2" fill="#ffffff" stroke="#5a5a5a" stroke-width="1.15"/>
<circle cx="249.00" cy="690.00" r="2.2" fill="#ffffff" stroke="#5a5a5a" stroke-width="1.15"/>
<circle cx="253.00" cy="689.00" r="2.2" fill="#ffffff" stroke="#5a5a5a" stroke-width="1.15"/>
<circle cx="264.00" cy="688.00" r="2.2" fill="#d9485e" stroke="#5a0a1c" stroke-width="1.15"/>
<circle cx="268.00" cy="686.50" r="2.2" fill="#d9485e" stroke="#5a0a1c" stroke-width="1.15"/>
<circle cx="272.00" cy="688.00" r="2.2" fill="#d9485e" stroke="#5a0a1c" stroke-width="1.15"/>
<circle cx="266.00" cy="690.00" r="2.2" fill="#d9485e" stroke="#5a0a1c" stroke-width="1.15"/>
<circle cx="270.00" cy="690.50" r="2.2" fill="#d9485e" stroke="#5a0a1c" stroke-width="1.15"/>
<circle cx="268.00" cy="689.00" r="2.2" fill="#d9485e" stroke="#5a0a1c" stroke-width="1.15"/>
<polygon points="283.00,687.00 280.95,691.55 285.05,691.55" fill="#ffffff" stroke="#5a5a5a" stroke-width="1.15" stroke-linejoin="round"/>
<polygon points="286.00,686.00 283.95,690.55 288.05,690.55" fill="#ffffff" stroke="#5a5a5a" stroke-width="1.15" stroke-linejoin="round"/>
<polygon points="289.00,687.00 286.95,691.55 291.05,691.55" fill="#ffffff" stroke="#5a5a5a" stroke-width="1.15" stroke-linejoin="round"/>
<polygon points="284.50,689.00 282.45,693.55 286.55,693.55" fill="#ffffff" stroke="#5a5a5a" stroke-width="1.15" stroke-linejoin="round"/>
<polygon points="288.00,689.00 285.95,693.55 290.05,693.55" fill="#ffffff" stroke="#5a5a5a" stroke-width="1.15" stroke-linejoin="round"/>
<polygon points="303.60,657.20 301.55,661.75 305.65,661.75" fill="#b54057" stroke="#5a0a1c" stroke-width="1.15" stroke-linejoin="round"/>
<polygon points="303.60,685.50 301.55,690.05 305.65,690.05" fill="#b54057" stroke="#5a0a1c" stroke-width="1.15" stroke-linejoin="round"/>
<polygon points="299.00,687.50 296.95,692.05 301.05,692.05" fill="#b54057" stroke="#5a0a1c" stroke-width="1.15" stroke-linejoin="round"/>
<polygon points="307.00,687.50 304.95,692.05 309.05,692.05" fill="#b54057" stroke="#5a0a1c" stroke-width="1.15" stroke-linejoin="round"/>
<polygon points="301.00,689.50 298.95,694.05 303.05,694.05" fill="#b54057" stroke="#5a0a1c" stroke-width="1.15" stroke-linejoin="round"/>
<polygon points="305.00,689.50 302.95,694.05 307.05,694.05" fill="#b54057" stroke="#5a0a1c" stroke-width="1.15" stroke-linejoin="round"/>
<polygon points="173.30,643.90 174.21,645.85 176.34,646.11 174.77,647.58 175.18,649.69 173.30,648.65 171.42,649.69 171.83,647.58 170.26,646.11 172.39,645.85" fill="#111" stroke="#111" stroke-width="0.5" stroke-linejoin="round"/>
<line x1="167.00" y1="655.10" x2="181.90" y2="655.10" stroke="#626262" stroke-width="1.4"/>
<polygon points="201.80,647.70 202.71,649.65 204.84,649.91 203.27,651.38 203.68,653.49 201.80,652.45 199.92,653.49 200.33,651.38 198.76,649.91 200.89,649.65" fill="#111" stroke="#111" stroke-width="0.5" stroke-linejoin="round"/>
<polygon points="208.20,647.70 209.11,649.65 211.24,649.91 209.67,651.38 210.08,653.49 208.20,652.45 206.32,653.49 206.73,651.38 205.16,649.91 207.29,649.65" fill="#111" stroke="#111" stroke-width="0.5" stroke-linejoin="round"/>
<polygon points="214.60,647.70 215.51,649.65 217.64,649.91 216.07,651.38 216.48,653.49 214.60,652.45 212.72,653.49 213.13,651.38 211.56,649.91 213.69,649.65" fill="#111" stroke="#111" stroke-width="0.5" stroke-linejoin="round"/>
<line x1="201.30" y1="658.90" x2="215.80" y2="658.90" stroke="#626262" stroke-width="1.4"/>
<text x="40.00" y="716.80" font-size="12" text-anchor="start" fill="#1a1a1a" font-style="italic">Alb:</text>
<line x1="79.60" y1="710.00" x2="82.80" y2="710.00" stroke="#222" stroke-width="1.2"/>
<line x1="95.85" y1="710.00" x2="101.35" y2="710.00" stroke="#222" stroke-width="1.2"/>
<line x1="98.60" y1="707.20" x2="98.60" y2="712.80" stroke="#222" stroke-width="1.2"/>
<line x1="114.70" y1="710.00" x2="117.90" y2="710.00" stroke="#222" stroke-width="1.2"/>
<line x1="131.25" y1="710.00" x2="136.75" y2="710.00" stroke="#222" stroke-width="1.2"/>
<line x1="134.00" y1="707.20" x2="134.00" y2="712.80" stroke="#222" stroke-width="1.2"/>
<line x1="164.10" y1="710.00" x2="167.30" y2="710.00" stroke="#222" stroke-width="1.2"/>
<line x1="180.85" y1="710.00" x2="186.35" y2="710.00" stroke="#222" stroke-width="1.2"/>
<line x1="183.60" y1="707.20" x2="183.60" y2="712.80" stroke="#222" stroke-width="1.2"/>
<line x1="199.50" y1="710.00" x2="202.70" y2="710.00" stroke="#222" stroke-width="1.2"/>
<line x1="215.55" y1="710.00" x2="221.05" y2="710.00" stroke="#222" stroke-width="1.2"/>
<line x1="218.30" y1="707.20" x2="218.30" y2="712.80" stroke="#222" stroke-width="1.2"/>
<line x1="249.40" y1="710.00" x2="252.60" y2="710.00" stroke="#222" stroke-width="1.2"/>
<line x1="265.45" y1="710.00" x2="270.95" y2="710.00" stroke="#222" stroke-width="1.2"/>
<line x1="268.20" y1="707.20" x2="268.20" y2="712.80" stroke="#222" stroke-width="1.2"/>
<line x1="284.40" y1="710.00" x2="287.60" y2="710.00" stroke="#222" stroke-width="1.2"/>
<line x1="300.85" y1="710.00" x2="306.35" y2="710.00" stroke="#222" stroke-width="1.2"/>
<line x1="303.60" y1="707.20" x2="303.60" y2="712.80" stroke="#222" stroke-width="1.2"/>
<line x1="74.60" y1="715.70" x2="103.40" y2="715.70" stroke="#333" stroke-width="1.2"/>
<line x1="108.10" y1="715.70" x2="137.20" y2="715.70" stroke="#333" stroke-width="1.2"/>
<line x1="161.40" y1="715.70" x2="190.30" y2="715.70" stroke="#333" stroke-width="1.2"/>
<line x1="194.10" y1="715.70" x2="223.40" y2="715.70" stroke="#333" stroke-width="1.2"/>
<line x1="246.60" y1="715.70" x2="275.40" y2="715.70" stroke="#333" stroke-width="1.2"/>
<line x1="279.10" y1="715.70" x2="308.30" y2="715.70" stroke="#333" stroke-width="1.2"/>
<text x="92.00" y="730.00" font-size="12.4" text-anchor="middle" fill="#1a1a1a">F</text>
<text x="124.80" y="730.00" font-size="12.4" text-anchor="middle" fill="#1a1a1a">M</text>
<text x="178.80" y="730.00" font-size="12.4" text-anchor="middle" fill="#1a1a1a">F</text>
<text x="211.60" y="730.00" font-size="12.4" text-anchor="middle" fill="#1a1a1a">M</text>
<text x="264.60" y="730.00" font-size="12.4" text-anchor="middle" fill="#1a1a1a">F</text>
<text x="297.70" y="730.00" font-size="12.4" text-anchor="middle" fill="#1a1a1a">M</text>
<text x="336.00" y="513.00" font-size="17" text-anchor="start" fill="#000" font-weight="bold">F</text>
<text x="455.50" y="522.70" font-size="13.3" font-style="italic" fill="#1a1a1a">Slc30a10</text>
<text x="511.40" y="518.10" font-size="7.7" font-style="italic" fill="#2a2a2a" style="stroke:none">lox/lox</text>
<text x="537.60" y="522.70" font-size="13.3" font-style="italic" fill="#1a1a1a">Slc40a1</text>
<text x="584.40" y="518.10" font-size="7.7" font-style="italic" fill="#2a2a2a" style="stroke:none">fl/fl</text>
<line x1="394.40" y1="532.60" x2="394.40" y2="700.40" stroke="#111" stroke-width="1.6"/>
<line x1="388.40" y1="533.20" x2="394.40" y2="533.20" stroke="#111" stroke-width="1.5"/>
<text x="386.30" y="537.70" font-size="12.5" text-anchor="end" fill="#1a1a1a">400</text>
<line x1="388.40" y1="574.80" x2="394.40" y2="574.80" stroke="#111" stroke-width="1.5"/>
<text x="386.30" y="579.30" font-size="12.5" text-anchor="end" fill="#1a1a1a">300</text>
<line x1="388.40" y1="616.35" x2="394.40" y2="616.35" stroke="#111" stroke-width="1.5"/>
<text x="386.30" y="620.85" font-size="12.5" text-anchor="end" fill="#1a1a1a">200</text>
<line x1="388.40" y1="657.90" x2="394.40" y2="657.90" stroke="#111" stroke-width="1.5"/>
<text x="386.30" y="662.40" font-size="12.5" text-anchor="end" fill="#1a1a1a">100</text>
<line x1="388.40" y1="699.50" x2="394.40" y2="699.50" stroke="#111" stroke-width="1.5"/>
<text x="386.30" y="704.00" font-size="12.5" text-anchor="end" fill="#1a1a1a">0</text>
<line x1="390.90" y1="554.00" x2="394.40" y2="554.00" stroke="#111" stroke-width="1.5"/>
<line x1="390.90" y1="595.60" x2="394.40" y2="595.60" stroke="#111" stroke-width="1.5"/>
<line x1="390.90" y1="637.10" x2="394.40" y2="637.10" stroke="#111" stroke-width="1.5"/>
<line x1="390.90" y1="678.70" x2="394.40" y2="678.70" stroke="#111" stroke-width="1.5"/>
<text x="0" y="0" font-size="13.4" text-anchor="middle" fill="#1a1a1a" transform="translate(359.40,617.50) rotate(-90)">µg Fe/g tissue</text>
<text x="432.00" y="541.40" font-size="12" text-anchor="middle" fill="#1a1a1a">Liver</text>
<text x="515.50" y="541.40" font-size="12" text-anchor="middle" fill="#1a1a1a">Bone</text>
<text x="604.80" y="541.40" font-size="12" text-anchor="middle" fill="#1a1a1a">Brain</text>
<line x1="475.60" y1="532.60" x2="475.60" y2="696.00" stroke="#8a8a8a" stroke-width="1.2" stroke-dasharray="4,3.4"/>
<line x1="561.10" y1="532.60" x2="561.10" y2="696.00" stroke="#8a8a8a" stroke-width="1.2" stroke-dasharray="4,3.4"/>
<rect x="401.75" y="644.30" width="13.25" height="55.20" fill="#adadad" stroke="#6a6a6a" stroke-width="1"/>
<rect x="419.75" y="614.50" width="12.25" height="85.00" fill="#fba3a3" stroke="#52282a" stroke-width="1"/>
<rect x="437.25" y="668.70" width="12.75" height="30.80" fill="#adadad" stroke="#6a6a6a" stroke-width="1"/>
<rect x="454.75" y="648.70" width="12.25" height="50.80" fill="#fba3a3" stroke="#52282a" stroke-width="1"/>
<rect x="486.80" y="667.60" width="12.20" height="31.90" fill="#adadad" stroke="#6a6a6a" stroke-width="1"/>
<rect x="504.10" y="659.90" width="12.50" height="39.60" fill="#fba3a3" stroke="#52282a" stroke-width="1"/>
<rect x="521.40" y="660.10" width="12.50" height="39.40" fill="#adadad" stroke="#6a6a6a" stroke-width="1"/>
<rect x="539.30" y="663.90" width="12.50" height="35.60" fill="#fba3a3" stroke="#52282a" stroke-width="1"/>
<rect x="570.80" y="691.20" width="13.10" height="8.30" fill="#adadad" stroke="#6a6a6a" stroke-width="1"/>
<rect x="588.40" y="691.70" width="12.80" height="7.80" fill="#fba3a3" stroke="#52282a" stroke-width="1"/>
<rect x="605.70" y="692.10" width="13.10" height="7.40" fill="#adadad" stroke="#6a6a6a" stroke-width="1"/>
<rect x="623.60" y="692.70" width="12.50" height="6.80" fill="#fba3a3" stroke="#52282a" stroke-width="1"/>
<line x1="393.70" y1="699.50" x2="644.50" y2="699.50" stroke="#111" stroke-width="1.7"/>
<circle cx="413.50" cy="634.30" r="2.2" fill="#ffffff" stroke="#5a5a5a" stroke-width="1.15"/>
<circle cx="403.00" cy="638.10" r="2.2" fill="#ffffff" stroke="#5a5a5a" stroke-width="1.15"/>
<circle cx="408.40" cy="641.80" r="2.2" fill="#ffffff" stroke="#5a5a5a" stroke-width="1.15"/>
<circle cx="403.00" cy="647.10" r="2.2" fill="#ffffff" stroke="#5a5a5a" stroke-width="1.15"/>
<circle cx="413.50" cy="647.10" r="2.2" fill="#ffffff" stroke="#5a5a5a" stroke-width="1.15"/>
<circle cx="408.40" cy="652.20" r="2.2" fill="#ffffff" stroke="#5a5a5a" stroke-width="1.15"/>
<circle cx="413.50" cy="642.60" r="2.2" fill="#ffffff" stroke="#5a5a5a" stroke-width="1.15"/>
<circle cx="425.90" cy="587.70" r="2.2" fill="#d9485e" stroke="#5a0a1c" stroke-width="1.15"/>
<circle cx="421.00" cy="606.50" r="2.2" fill="#d9485e" stroke="#5a0a1c" stroke-width="1.15"/>
<circle cx="431.00" cy="605.40" r="2.2" fill="#d9485e" stroke="#5a0a1c" stroke-width="1.15"/>
<circle cx="421.00" cy="616.90" r="2.2" fill="#d9485e" stroke="#5a0a1c" stroke-width="1.15"/>
<circle cx="431.00" cy="614.00" r="2.2" fill="#d9485e" stroke="#5a0a1c" stroke-width="1.15"/>
<circle cx="425.90" cy="630.10" r="2.2" fill="#d9485e" stroke="#5a0a1c" stroke-width="1.15"/>
<circle cx="425.90" cy="637.50" r="2.2" fill="#d9485e" stroke="#5a0a1c" stroke-width="1.15"/>
<polygon points="438.50,659.00 436.45,663.55 440.55,663.55" fill="#ffffff" stroke="#5a5a5a" stroke-width="1.15" stroke-linejoin="round"/>
<polygon points="448.50,659.70 446.45,664.25 450.55,664.25" fill="#ffffff" stroke="#5a5a5a" stroke-width="1.15" stroke-linejoin="round"/>
<polygon points="443.60,665.00 441.55,669.55 445.65,669.55" fill="#ffffff" stroke="#5a5a5a" stroke-width="1.15" stroke-linejoin="round"/>
<polygon points="438.50,673.00 436.45,677.55 440.55,677.55" fill="#ffffff" stroke="#5a5a5a" stroke-width="1.15" stroke-linejoin="round"/>
<polygon points="448.50,673.00 446.45,677.55 450.55,677.55" fill="#ffffff" stroke="#5a5a5a" stroke-width="1.15" stroke-linejoin="round"/>
<polygon points="460.90,618.90 458.85,623.45 462.95,623.45" fill="#b54057" stroke="#5a0a1c" stroke-width="1.15" stroke-linejoin="round"/>
<polygon points="460.90,637.20 458.85,641.75 462.95,641.75" fill="#b54057" stroke="#5a0a1c" stroke-width="1.15" stroke-linejoin="round"/>
<polygon points="456.00,651.70 453.95,656.25 458.05,656.25" fill="#b54057" stroke="#5a0a1c" stroke-width="1.15" stroke-linejoin="round"/>
<polygon points="466.00,651.00 463.95,655.55 468.05,655.55" fill="#b54057" stroke="#5a0a1c" stroke-width="1.15" stroke-linejoin="round"/>
<polygon points="456.00,657.80 453.95,662.35 458.05,662.35" fill="#b54057" stroke="#5a0a1c" stroke-width="1.15" stroke-linejoin="round"/>
<polygon points="466.00,657.50 463.95,662.05 468.05,662.05" fill="#b54057" stroke="#5a0a1c" stroke-width="1.15" stroke-linejoin="round"/>
<circle cx="488.00" cy="660.20" r="2.2" fill="#ffffff" stroke="#5a5a5a" stroke-width="1.15"/>
<circle cx="497.50" cy="663.40" r="2.2" fill="#ffffff" stroke="#5a5a5a" stroke-width="1.15"/>
<circle cx="492.50" cy="664.00" r="2.2" fill="#ffffff" stroke="#5a5a5a" stroke-width="1.15"/>
<circle cx="488.00" cy="672.00" r="2.2" fill="#ffffff" stroke="#5a5a5a" stroke-width="1.15"/>
<circle cx="492.50" cy="670.30" r="2.2" fill="#ffffff" stroke="#5a5a5a" stroke-width="1.15"/>
<circle cx="497.50" cy="672.00" r="2.2" fill="#ffffff" stroke="#5a5a5a" stroke-width="1.15"/>
<circle cx="506.00" cy="654.90" r="2.2" fill="#d9485e" stroke="#5a0a1c" stroke-width="1.15"/>
<circle cx="510.00" cy="653.70" r="2.2" fill="#d9485e" stroke="#5a0a1c" stroke-width="1.15"/>
<circle cx="515.00" cy="653.70" r="2.2" fill="#d9485e" stroke="#5a0a1c" stroke-width="1.15"/>
<circle cx="508.00" cy="658.30" r="2.2" fill="#d9485e" stroke="#5a0a1c" stroke-width="1.15"/>
<circle cx="513.00" cy="657.10" r="2.2" fill="#d9485e" stroke="#5a0a1c" stroke-width="1.15"/>
<circle cx="510.40" cy="664.00" r="2.2" fill="#d9485e" stroke="#5a0a1c" stroke-width="1.15"/>
<circle cx="510.40" cy="669.40" r="2.2" fill="#d9485e" stroke="#5a0a1c" stroke-width="1.15"/>
<polygon points="523.00,648.90 520.95,653.45 525.05,653.45" fill="#ffffff" stroke="#5a5a5a" stroke-width="1.15" stroke-linejoin="round"/>
<polygon points="532.50,650.60 530.45,655.15 534.55,655.15" fill="#ffffff" stroke="#5a5a5a" stroke-width="1.15" stroke-linejoin="round"/>
<polygon points="524.00,658.10 521.95,662.65 526.05,662.65" fill="#ffffff" stroke="#5a5a5a" stroke-width="1.15" stroke-linejoin="round"/>
<polygon points="531.00,659.80 528.95,664.35 533.05,664.35" fill="#ffffff" stroke="#5a5a5a" stroke-width="1.15" stroke-linejoin="round"/>
<polygon points="527.70,667.20 525.65,671.75 529.75,671.75" fill="#ffffff" stroke="#5a5a5a" stroke-width="1.15" stroke-linejoin="round"/>
<polygon points="545.50,644.40 543.45,648.95 547.55,648.95" fill="#b54057" stroke="#5a0a1c" stroke-width="1.15" stroke-linejoin="round"/>
<polygon points="545.50,654.10 543.45,658.65 547.55,658.65" fill="#b54057" stroke="#5a0a1c" stroke-width="1.15" stroke-linejoin="round"/>
<polygon points="540.50,659.80 538.45,664.35 542.55,664.35" fill="#b54057" stroke="#5a0a1c" stroke-width="1.15" stroke-linejoin="round"/>
<polygon points="550.50,660.40 548.45,664.95 552.55,664.95" fill="#b54057" stroke="#5a0a1c" stroke-width="1.15" stroke-linejoin="round"/>
<polygon points="545.50,662.10 543.45,666.65 547.55,666.65" fill="#b54057" stroke="#5a0a1c" stroke-width="1.15" stroke-linejoin="round"/>
<polygon points="545.50,680.10 543.45,684.65 547.55,684.65" fill="#b54057" stroke="#5a0a1c" stroke-width="1.15" stroke-linejoin="round"/>
<circle cx="573.00" cy="691.50" r="2.2" fill="#ffffff" stroke="#5a5a5a" stroke-width="1.15"/>
<circle cx="577.00" cy="690.50" r="2.2" fill="#ffffff" stroke="#5a5a5a" stroke-width="1.15"/>
<circle cx="581.00" cy="691.50" r="2.2" fill="#ffffff" stroke="#5a5a5a" stroke-width="1.15"/>
<circle cx="575.00" cy="693.00" r="2.2" fill="#ffffff" stroke="#5a5a5a" stroke-width="1.15"/>
<circle cx="579.00" cy="693.00" r="2.2" fill="#ffffff" stroke="#5a5a5a" stroke-width="1.15"/>
<circle cx="591.00" cy="692.00" r="2.2" fill="#d9485e" stroke="#5a0a1c" stroke-width="1.15"/>
<circle cx="595.00" cy="691.50" r="2.2" fill="#d9485e" stroke="#5a0a1c" stroke-width="1.15"/>
<circle cx="599.00" cy="692.00" r="2.2" fill="#d9485e" stroke="#5a0a1c" stroke-width="1.15"/>
<circle cx="593.00" cy="693.50" r="2.2" fill="#d9485e" stroke="#5a0a1c" stroke-width="1.15"/>
<circle cx="597.00" cy="693.50" r="2.2" fill="#d9485e" stroke="#5a0a1c" stroke-width="1.15"/>
<polygon points="608.00,689.00 605.95,693.55 610.05,693.55" fill="#ffffff" stroke="#5a5a5a" stroke-width="1.15" stroke-linejoin="round"/>
<polygon points="612.00,688.00 609.95,692.55 614.05,692.55" fill="#ffffff" stroke="#5a5a5a" stroke-width="1.15" stroke-linejoin="round"/>
<polygon points="616.00,689.00 613.95,693.55 618.05,693.55" fill="#ffffff" stroke="#5a5a5a" stroke-width="1.15" stroke-linejoin="round"/>
<polygon points="610.00,690.50 607.95,695.05 612.05,695.05" fill="#ffffff" stroke="#5a5a5a" stroke-width="1.15" stroke-linejoin="round"/>
<polygon points="614.00,690.50 611.95,695.05 616.05,695.05" fill="#ffffff" stroke="#5a5a5a" stroke-width="1.15" stroke-linejoin="round"/>
<polygon points="626.00,689.50 623.95,694.05 628.05,694.05" fill="#b54057" stroke="#5a0a1c" stroke-width="1.15" stroke-linejoin="round"/>
<polygon points="630.00,689.00 627.95,693.55 632.05,693.55" fill="#b54057" stroke="#5a0a1c" stroke-width="1.15" stroke-linejoin="round"/>
<polygon points="634.00,689.50 631.95,694.05 636.05,694.05" fill="#b54057" stroke="#5a0a1c" stroke-width="1.15" stroke-linejoin="round"/>
<polygon points="628.00,691.00 625.95,695.55 630.05,695.55" fill="#b54057" stroke="#5a0a1c" stroke-width="1.15" stroke-linejoin="round"/>
<polygon points="632.00,691.00 629.95,695.55 634.05,695.55" fill="#b54057" stroke="#5a0a1c" stroke-width="1.15" stroke-linejoin="round"/>
<polygon points="412.20,566.10 413.11,568.05 415.24,568.31 413.67,569.78 414.08,571.89 412.20,570.85 410.32,571.89 410.73,569.78 409.16,568.31 411.29,568.05" fill="#111" stroke="#111" stroke-width="0.5" stroke-linejoin="round"/>
<polygon points="418.60,566.10 419.51,568.05 421.64,568.31 420.07,569.78 420.48,571.89 418.60,570.85 416.72,571.89 417.13,569.78 415.56,568.31 417.69,568.05" fill="#111" stroke="#111" stroke-width="0.5" stroke-linejoin="round"/>
<line x1="406.25" y1="576.30" x2="426.75" y2="576.30" stroke="#626262" stroke-width="1.4"/>
<polygon points="451.00,600.80 451.91,602.75 454.04,603.01 452.47,604.48 452.88,606.59 451.00,605.55 449.12,606.59 449.53,604.48 447.96,603.01 450.09,602.75" fill="#111" stroke="#111" stroke-width="0.5" stroke-linejoin="round"/>
<line x1="441.60" y1="612.40" x2="462.00" y2="612.40" stroke="#626262" stroke-width="1.4"/>
<polygon points="501.00,627.20 501.91,629.15 504.04,629.41 502.47,630.88 502.88,632.99 501.00,631.95 499.12,632.99 499.53,630.88 497.96,629.41 500.09,629.15" fill="#111" stroke="#111" stroke-width="0.5" stroke-linejoin="round"/>
<line x1="493.40" y1="639.00" x2="510.30" y2="639.00" stroke="#626262" stroke-width="1.4"/>
<text x="366.30" y="716.80" font-size="12" text-anchor="start" fill="#1a1a1a" font-style="italic">Alb:</text>
<line x1="406.80" y1="710.00" x2="410.00" y2="710.00" stroke="#222" stroke-width="1.2"/>
<line x1="423.15" y1="710.00" x2="428.65" y2="710.00" stroke="#222" stroke-width="1.2"/>
<line x1="425.90" y1="707.20" x2="425.90" y2="712.80" stroke="#222" stroke-width="1.2"/>
<line x1="442.00" y1="710.00" x2="445.20" y2="710.00" stroke="#222" stroke-width="1.2"/>
<line x1="458.15" y1="710.00" x2="463.65" y2="710.00" stroke="#222" stroke-width="1.2"/>
<line x1="460.90" y1="707.20" x2="460.90" y2="712.80" stroke="#222" stroke-width="1.2"/>
<line x1="491.30" y1="710.00" x2="494.50" y2="710.00" stroke="#222" stroke-width="1.2"/>
<line x1="507.65" y1="710.00" x2="513.15" y2="710.00" stroke="#222" stroke-width="1.2"/>
<line x1="510.40" y1="707.20" x2="510.40" y2="712.80" stroke="#222" stroke-width="1.2"/>
<line x1="526.10" y1="710.00" x2="529.30" y2="710.00" stroke="#222" stroke-width="1.2"/>
<line x1="542.75" y1="710.00" x2="548.25" y2="710.00" stroke="#222" stroke-width="1.2"/>
<line x1="545.50" y1="707.20" x2="545.50" y2="712.80" stroke="#222" stroke-width="1.2"/>
<line x1="575.70" y1="710.00" x2="578.90" y2="710.00" stroke="#222" stroke-width="1.2"/>
<line x1="592.05" y1="710.00" x2="597.55" y2="710.00" stroke="#222" stroke-width="1.2"/>
<line x1="594.80" y1="707.20" x2="594.80" y2="712.80" stroke="#222" stroke-width="1.2"/>
<line x1="610.70" y1="710.00" x2="613.90" y2="710.00" stroke="#222" stroke-width="1.2"/>
<line x1="627.15" y1="710.00" x2="632.65" y2="710.00" stroke="#222" stroke-width="1.2"/>
<line x1="629.90" y1="707.20" x2="629.90" y2="712.80" stroke="#222" stroke-width="1.2"/>
<line x1="401.90" y1="715.70" x2="431.20" y2="715.70" stroke="#333" stroke-width="1.2"/>
<line x1="435.70" y1="715.70" x2="465.00" y2="715.70" stroke="#333" stroke-width="1.2"/>
<line x1="488.20" y1="715.70" x2="517.40" y2="715.70" stroke="#333" stroke-width="1.2"/>
<line x1="520.60" y1="715.70" x2="550.30" y2="715.70" stroke="#333" stroke-width="1.2"/>
<line x1="572.90" y1="715.70" x2="601.90" y2="715.70" stroke="#333" stroke-width="1.2"/>
<line x1="605.60" y1="715.70" x2="634.80" y2="715.70" stroke="#333" stroke-width="1.2"/>
<text x="419.00" y="730.00" font-size="12.4" text-anchor="middle" fill="#1a1a1a">F</text>
<text x="451.00" y="730.00" font-size="12.4" text-anchor="middle" fill="#1a1a1a">M</text>
<text x="501.70" y="730.00" font-size="12.4" text-anchor="middle" fill="#1a1a1a">F</text>
<text x="534.50" y="730.00" font-size="12.4" text-anchor="middle" fill="#1a1a1a">M</text>
<text x="587.10" y="730.00" font-size="12.4" text-anchor="middle" fill="#1a1a1a">F</text>
<text x="620.00" y="730.00" font-size="12.4" text-anchor="middle" fill="#1a1a1a">M</text>
<line x1="81.00" y1="113.60" x2="81.00" y2="132.00" stroke="#1a1a1a" stroke-width="1.1"/>
<line x1="78.00" y1="113.60" x2="84.00" y2="113.60" stroke="#1a1a1a" stroke-width="1.1"/>
<line x1="78.00" y1="132.00" x2="84.00" y2="132.00" stroke="#1a1a1a" stroke-width="1.1"/>
<line x1="117.00" y1="115.30" x2="117.00" y2="150.00" stroke="#1a1a1a" stroke-width="1.1"/>
<line x1="114.00" y1="115.30" x2="120.00" y2="115.30" stroke="#1a1a1a" stroke-width="1.1"/>
<line x1="114.00" y1="150.00" x2="120.00" y2="150.00" stroke="#1a1a1a" stroke-width="1.1"/>
<line x1="167.00" y1="114.40" x2="167.00" y2="132.00" stroke="#1a1a1a" stroke-width="1.1"/>
<line x1="164.00" y1="114.40" x2="170.00" y2="114.40" stroke="#1a1a1a" stroke-width="1.1"/>
<line x1="164.00" y1="132.00" x2="170.00" y2="132.00" stroke="#1a1a1a" stroke-width="1.1"/>
<line x1="185.00" y1="108.50" x2="185.00" y2="132.00" stroke="#24244c" stroke-width="1.1"/>
<line x1="182.00" y1="108.50" x2="188.00" y2="108.50" stroke="#24244c" stroke-width="1.1"/>
<line x1="182.00" y1="132.00" x2="188.00" y2="132.00" stroke="#24244c" stroke-width="1.1"/>
<line x1="202.50" y1="128.40" x2="202.50" y2="140.10" stroke="#1a1a1a" stroke-width="1.1"/>
<line x1="199.50" y1="128.40" x2="205.50" y2="128.40" stroke="#1a1a1a" stroke-width="1.1"/>
<line x1="199.50" y1="140.10" x2="205.50" y2="140.10" stroke="#1a1a1a" stroke-width="1.1"/>
<line x1="220.30" y1="133.50" x2="220.30" y2="155.60" stroke="#24244c" stroke-width="1.1"/>
<line x1="217.30" y1="133.50" x2="223.30" y2="133.50" stroke="#24244c" stroke-width="1.1"/>
<line x1="217.30" y1="155.60" x2="223.30" y2="155.60" stroke="#24244c" stroke-width="1.1"/>
<line x1="252.40" y1="118.40" x2="252.40" y2="127.60" stroke="#1a1a1a" stroke-width="1.1"/>
<line x1="249.40" y1="118.40" x2="255.40" y2="118.40" stroke="#1a1a1a" stroke-width="1.1"/>
<line x1="249.40" y1="127.60" x2="255.40" y2="127.60" stroke="#1a1a1a" stroke-width="1.1"/>
<line x1="270.40" y1="122.10" x2="270.40" y2="136.70" stroke="#24244c" stroke-width="1.1"/>
<line x1="267.40" y1="122.10" x2="273.40" y2="122.10" stroke="#24244c" stroke-width="1.1"/>
<line x1="267.40" y1="136.70" x2="273.40" y2="136.70" stroke="#24244c" stroke-width="1.1"/>
<line x1="288.10" y1="119.00" x2="288.10" y2="147.00" stroke="#1a1a1a" stroke-width="1.1"/>
<line x1="285.10" y1="119.00" x2="291.10" y2="119.00" stroke="#1a1a1a" stroke-width="1.1"/>
<line x1="285.10" y1="147.00" x2="291.10" y2="147.00" stroke="#1a1a1a" stroke-width="1.1"/>
<line x1="305.90" y1="137.30" x2="305.90" y2="147.00" stroke="#24244c" stroke-width="1.1"/>
<line x1="302.90" y1="137.30" x2="308.90" y2="137.30" stroke="#24244c" stroke-width="1.1"/>
<line x1="302.90" y1="147.00" x2="308.90" y2="147.00" stroke="#24244c" stroke-width="1.1"/>
<line x1="406.50" y1="140.60" x2="406.50" y2="155.00" stroke="#1a1a1a" stroke-width="1.1"/>
<line x1="403.50" y1="140.60" x2="409.50" y2="140.60" stroke="#1a1a1a" stroke-width="1.1"/>
<line x1="403.50" y1="155.00" x2="409.50" y2="155.00" stroke="#1a1a1a" stroke-width="1.1"/>
<line x1="422.20" y1="108.50" x2="422.20" y2="121.30" stroke="#24244c" stroke-width="1.1"/>
<line x1="419.20" y1="108.50" x2="425.20" y2="108.50" stroke="#24244c" stroke-width="1.1"/>
<line x1="419.20" y1="121.30" x2="425.20" y2="121.30" stroke="#24244c" stroke-width="1.1"/>
<line x1="437.20" y1="159.80" x2="437.20" y2="165.00" stroke="#1a1a1a" stroke-width="1.1"/>
<line x1="434.20" y1="159.80" x2="440.20" y2="159.80" stroke="#1a1a1a" stroke-width="1.1"/>
<line x1="434.20" y1="165.00" x2="440.20" y2="165.00" stroke="#1a1a1a" stroke-width="1.1"/>
<line x1="453.50" y1="117.00" x2="453.50" y2="121.00" stroke="#24244c" stroke-width="1.1"/>
<line x1="450.50" y1="117.00" x2="456.50" y2="117.00" stroke="#24244c" stroke-width="1.1"/>
<line x1="450.50" y1="121.00" x2="456.50" y2="121.00" stroke="#24244c" stroke-width="1.1"/>
<line x1="481.20" y1="167.50" x2="481.20" y2="178.00" stroke="#1a1a1a" stroke-width="1.1"/>
<line x1="478.20" y1="167.50" x2="484.20" y2="167.50" stroke="#1a1a1a" stroke-width="1.1"/>
<line x1="478.20" y1="178.00" x2="484.20" y2="178.00" stroke="#1a1a1a" stroke-width="1.1"/>
<line x1="496.70" y1="169.50" x2="496.70" y2="173.50" stroke="#24244c" stroke-width="1.1"/>
<line x1="493.70" y1="169.50" x2="499.70" y2="169.50" stroke="#24244c" stroke-width="1.1"/>
<line x1="493.70" y1="173.50" x2="499.70" y2="173.50" stroke="#24244c" stroke-width="1.1"/>
<line x1="512.40" y1="181.50" x2="512.40" y2="188.00" stroke="#1a1a1a" stroke-width="1.1"/>
<line x1="509.40" y1="181.50" x2="515.40" y2="181.50" stroke="#1a1a1a" stroke-width="1.1"/>
<line x1="509.40" y1="188.00" x2="515.40" y2="188.00" stroke="#1a1a1a" stroke-width="1.1"/>
<line x1="528.10" y1="173.00" x2="528.10" y2="177.50" stroke="#24244c" stroke-width="1.1"/>
<line x1="525.10" y1="173.00" x2="531.10" y2="173.00" stroke="#24244c" stroke-width="1.1"/>
<line x1="525.10" y1="177.50" x2="531.10" y2="177.50" stroke="#24244c" stroke-width="1.1"/>
<line x1="630.50" y1="114.40" x2="630.50" y2="141.30" stroke="#1a1a1a" stroke-width="1.1"/>
<line x1="627.50" y1="114.40" x2="633.50" y2="114.40" stroke="#1a1a1a" stroke-width="1.1"/>
<line x1="627.50" y1="141.30" x2="633.50" y2="141.30" stroke="#1a1a1a" stroke-width="1.1"/>
<line x1="646.20" y1="123.20" x2="646.20" y2="139.00" stroke="#24244c" stroke-width="1.1"/>
<line x1="643.20" y1="123.20" x2="649.20" y2="123.20" stroke="#24244c" stroke-width="1.1"/>
<line x1="643.20" y1="139.00" x2="649.20" y2="139.00" stroke="#24244c" stroke-width="1.1"/>
<line x1="661.40" y1="138.40" x2="661.40" y2="150.90" stroke="#1a1a1a" stroke-width="1.1"/>
<line x1="658.40" y1="138.40" x2="664.40" y2="138.40" stroke="#1a1a1a" stroke-width="1.1"/>
<line x1="658.40" y1="150.90" x2="664.40" y2="150.90" stroke="#1a1a1a" stroke-width="1.1"/>
<line x1="676.90" y1="125.90" x2="676.90" y2="149.40" stroke="#24244c" stroke-width="1.1"/>
<line x1="673.90" y1="125.90" x2="679.90" y2="125.90" stroke="#24244c" stroke-width="1.1"/>
<line x1="673.90" y1="149.40" x2="679.90" y2="149.40" stroke="#24244c" stroke-width="1.1"/>
<line x1="81.20" y1="362.50" x2="81.20" y2="378.10" stroke="#1a1a1a" stroke-width="1.1"/>
<line x1="78.20" y1="362.50" x2="84.20" y2="362.50" stroke="#1a1a1a" stroke-width="1.1"/>
<line x1="78.20" y1="378.10" x2="84.20" y2="378.10" stroke="#1a1a1a" stroke-width="1.1"/>
<line x1="116.60" y1="379.10" x2="116.60" y2="387.20" stroke="#1a1a1a" stroke-width="1.1"/>
<line x1="113.60" y1="379.10" x2="119.60" y2="379.10" stroke="#1a1a1a" stroke-width="1.1"/>
<line x1="113.60" y1="387.20" x2="119.60" y2="387.20" stroke="#1a1a1a" stroke-width="1.1"/>
<line x1="166.00" y1="360.80" x2="166.00" y2="378.20" stroke="#1a1a1a" stroke-width="1.1"/>
<line x1="163.00" y1="360.80" x2="169.00" y2="360.80" stroke="#1a1a1a" stroke-width="1.1"/>
<line x1="163.00" y1="378.20" x2="169.00" y2="378.20" stroke="#1a1a1a" stroke-width="1.1"/>
<line x1="183.60" y1="379.90" x2="183.60" y2="392.00" stroke="#3a1212" stroke-width="1.1"/>
<line x1="180.60" y1="379.90" x2="186.60" y2="379.90" stroke="#3a1212" stroke-width="1.1"/>
<line x1="180.60" y1="392.00" x2="186.60" y2="392.00" stroke="#3a1212" stroke-width="1.1"/>
<line x1="201.10" y1="373.50" x2="201.10" y2="378.80" stroke="#1a1a1a" stroke-width="1.1"/>
<line x1="198.10" y1="373.50" x2="204.10" y2="373.50" stroke="#1a1a1a" stroke-width="1.1"/>
<line x1="198.10" y1="378.80" x2="204.10" y2="378.80" stroke="#1a1a1a" stroke-width="1.1"/>
<line x1="218.60" y1="378.60" x2="218.60" y2="392.20" stroke="#3a1212" stroke-width="1.1"/>
<line x1="215.60" y1="378.60" x2="221.60" y2="378.60" stroke="#3a1212" stroke-width="1.1"/>
<line x1="215.60" y1="392.20" x2="221.60" y2="392.20" stroke="#3a1212" stroke-width="1.1"/>
<line x1="250.60" y1="357.20" x2="250.60" y2="383.10" stroke="#1a1a1a" stroke-width="1.1"/>
<line x1="247.60" y1="357.20" x2="253.60" y2="357.20" stroke="#1a1a1a" stroke-width="1.1"/>
<line x1="247.60" y1="383.10" x2="253.60" y2="383.10" stroke="#1a1a1a" stroke-width="1.1"/>
<line x1="268.10" y1="360.40" x2="268.10" y2="378.80" stroke="#3a1212" stroke-width="1.1"/>
<line x1="265.10" y1="360.40" x2="271.10" y2="360.40" stroke="#3a1212" stroke-width="1.1"/>
<line x1="265.10" y1="378.80" x2="271.10" y2="378.80" stroke="#3a1212" stroke-width="1.1"/>
<line x1="285.60" y1="373.50" x2="285.60" y2="391.50" stroke="#1a1a1a" stroke-width="1.1"/>
<line x1="282.60" y1="373.50" x2="288.60" y2="373.50" stroke="#1a1a1a" stroke-width="1.1"/>
<line x1="282.60" y1="391.50" x2="288.60" y2="391.50" stroke="#1a1a1a" stroke-width="1.1"/>
<line x1="303.40" y1="381.80" x2="303.40" y2="389.00" stroke="#3a1212" stroke-width="1.1"/>
<line x1="300.40" y1="381.80" x2="306.40" y2="381.80" stroke="#3a1212" stroke-width="1.1"/>
<line x1="300.40" y1="389.00" x2="306.40" y2="389.00" stroke="#3a1212" stroke-width="1.1"/>
<line x1="408.70" y1="366.50" x2="408.70" y2="376.00" stroke="#1a1a1a" stroke-width="1.1"/>
<line x1="405.70" y1="366.50" x2="411.70" y2="366.50" stroke="#1a1a1a" stroke-width="1.1"/>
<line x1="405.70" y1="376.00" x2="411.70" y2="376.00" stroke="#1a1a1a" stroke-width="1.1"/>
<line x1="426.40" y1="418.30" x2="426.40" y2="423.00" stroke="#3a1212" stroke-width="1.1"/>
<line x1="423.40" y1="418.30" x2="429.40" y2="418.30" stroke="#3a1212" stroke-width="1.1"/>
<line x1="423.40" y1="423.00" x2="429.40" y2="423.00" stroke="#3a1212" stroke-width="1.1"/>
<line x1="444.40" y1="406.60" x2="444.40" y2="410.00" stroke="#1a1a1a" stroke-width="1.1"/>
<line x1="441.40" y1="406.60" x2="447.40" y2="406.60" stroke="#1a1a1a" stroke-width="1.1"/>
<line x1="441.40" y1="410.00" x2="447.40" y2="410.00" stroke="#1a1a1a" stroke-width="1.1"/>
<line x1="461.60" y1="440.00" x2="461.60" y2="444.00" stroke="#3a1212" stroke-width="1.1"/>
<line x1="458.60" y1="440.00" x2="464.60" y2="440.00" stroke="#3a1212" stroke-width="1.1"/>
<line x1="458.60" y1="444.00" x2="464.60" y2="444.00" stroke="#3a1212" stroke-width="1.1"/>
<line x1="494.20" y1="363.00" x2="494.20" y2="378.10" stroke="#1a1a1a" stroke-width="1.1"/>
<line x1="491.20" y1="363.00" x2="497.20" y2="363.00" stroke="#1a1a1a" stroke-width="1.1"/>
<line x1="491.20" y1="378.10" x2="497.20" y2="378.10" stroke="#1a1a1a" stroke-width="1.1"/>
<line x1="511.90" y1="368.50" x2="511.90" y2="380.70" stroke="#3a1212" stroke-width="1.1"/>
<line x1="508.90" y1="368.50" x2="514.90" y2="368.50" stroke="#3a1212" stroke-width="1.1"/>
<line x1="508.90" y1="380.70" x2="514.90" y2="380.70" stroke="#3a1212" stroke-width="1.1"/>
<line x1="529.50" y1="368.50" x2="529.50" y2="374.00" stroke="#1a1a1a" stroke-width="1.1"/>
<line x1="526.50" y1="368.50" x2="532.50" y2="368.50" stroke="#1a1a1a" stroke-width="1.1"/>
<line x1="526.50" y1="374.00" x2="532.50" y2="374.00" stroke="#1a1a1a" stroke-width="1.1"/>
<line x1="547.50" y1="364.60" x2="547.50" y2="384.50" stroke="#3a1212" stroke-width="1.1"/>
<line x1="544.50" y1="364.60" x2="550.50" y2="364.60" stroke="#3a1212" stroke-width="1.1"/>
<line x1="544.50" y1="384.50" x2="550.50" y2="384.50" stroke="#3a1212" stroke-width="1.1"/>
<line x1="579.20" y1="355.70" x2="579.20" y2="385.10" stroke="#1a1a1a" stroke-width="1.1"/>
<line x1="576.20" y1="355.70" x2="582.20" y2="355.70" stroke="#1a1a1a" stroke-width="1.1"/>
<line x1="576.20" y1="385.10" x2="582.20" y2="385.10" stroke="#1a1a1a" stroke-width="1.1"/>
<line x1="597.10" y1="343.70" x2="597.10" y2="367.00" stroke="#3a1212" stroke-width="1.1"/>
<line x1="594.10" y1="343.70" x2="600.10" y2="343.70" stroke="#3a1212" stroke-width="1.1"/>
<line x1="594.10" y1="367.00" x2="600.10" y2="367.00" stroke="#3a1212" stroke-width="1.1"/>
<line x1="614.50" y1="365.90" x2="614.50" y2="375.50" stroke="#1a1a1a" stroke-width="1.1"/>
<line x1="611.50" y1="365.90" x2="617.50" y2="365.90" stroke="#1a1a1a" stroke-width="1.1"/>
<line x1="611.50" y1="375.50" x2="617.50" y2="375.50" stroke="#1a1a1a" stroke-width="1.1"/>
<line x1="632.50" y1="367.00" x2="632.50" y2="380.30" stroke="#3a1212" stroke-width="1.1"/>
<line x1="629.50" y1="367.00" x2="635.50" y2="367.00" stroke="#3a1212" stroke-width="1.1"/>
<line x1="629.50" y1="380.30" x2="635.50" y2="380.30" stroke="#3a1212" stroke-width="1.1"/>
<line x1="81.20" y1="636.70" x2="81.20" y2="645.00" stroke="#1a1a1a" stroke-width="1.1"/>
<line x1="78.20" y1="636.70" x2="84.20" y2="636.70" stroke="#1a1a1a" stroke-width="1.1"/>
<line x1="78.20" y1="645.00" x2="84.20" y2="645.00" stroke="#1a1a1a" stroke-width="1.1"/>
<line x1="98.60" y1="629.80" x2="98.60" y2="638.70" stroke="#3a1212" stroke-width="1.1"/>
<line x1="95.60" y1="629.80" x2="101.60" y2="629.80" stroke="#3a1212" stroke-width="1.1"/>
<line x1="95.60" y1="638.70" x2="101.60" y2="638.70" stroke="#3a1212" stroke-width="1.1"/>
<line x1="116.30" y1="659.50" x2="116.30" y2="664.30" stroke="#1a1a1a" stroke-width="1.1"/>
<line x1="113.30" y1="659.50" x2="119.30" y2="659.50" stroke="#1a1a1a" stroke-width="1.1"/>
<line x1="113.30" y1="664.30" x2="119.30" y2="664.30" stroke="#1a1a1a" stroke-width="1.1"/>
<line x1="134.00" y1="613.00" x2="134.00" y2="641.00" stroke="#3a1212" stroke-width="1.1"/>
<line x1="131.00" y1="613.00" x2="137.00" y2="613.00" stroke="#3a1212" stroke-width="1.1"/>
<line x1="131.00" y1="641.00" x2="137.00" y2="641.00" stroke="#3a1212" stroke-width="1.1"/>
<line x1="183.60" y1="665.00" x2="183.60" y2="670.00" stroke="#3a1212" stroke-width="1.1"/>
<line x1="180.60" y1="665.00" x2="186.60" y2="665.00" stroke="#3a1212" stroke-width="1.1"/>
<line x1="180.60" y1="670.00" x2="186.60" y2="670.00" stroke="#3a1212" stroke-width="1.1"/>
<line x1="303.60" y1="678.60" x2="303.60" y2="689.00" stroke="#3a1212" stroke-width="1.1"/>
<line x1="300.60" y1="678.60" x2="306.60" y2="678.60" stroke="#3a1212" stroke-width="1.1"/>
<line x1="300.60" y1="689.00" x2="306.60" y2="689.00" stroke="#3a1212" stroke-width="1.1"/>
<line x1="408.40" y1="641.00" x2="408.40" y2="645.50" stroke="#333333" stroke-width="1.1"/>
<line x1="405.40" y1="641.00" x2="411.40" y2="641.00" stroke="#333333" stroke-width="1.1"/>
<line x1="405.40" y1="645.50" x2="411.40" y2="645.50" stroke="#333333" stroke-width="1.1"/>
<line x1="425.90" y1="608.10" x2="425.90" y2="620.10" stroke="#3a1212" stroke-width="1.1"/>
<line x1="422.90" y1="608.10" x2="428.90" y2="608.10" stroke="#3a1212" stroke-width="1.1"/>
<line x1="422.90" y1="620.10" x2="428.90" y2="620.10" stroke="#3a1212" stroke-width="1.1"/>
<line x1="443.60" y1="665.90" x2="443.60" y2="670.70" stroke="#333333" stroke-width="1.1"/>
<line x1="440.60" y1="665.90" x2="446.60" y2="665.90" stroke="#333333" stroke-width="1.1"/>
<line x1="440.60" y1="670.70" x2="446.60" y2="670.70" stroke="#333333" stroke-width="1.1"/>
<line x1="460.90" y1="641.30" x2="460.90" y2="654.20" stroke="#3a1212" stroke-width="1.1"/>
<line x1="457.90" y1="641.30" x2="463.90" y2="641.30" stroke="#3a1212" stroke-width="1.1"/>
<line x1="457.90" y1="654.20" x2="463.90" y2="654.20" stroke="#3a1212" stroke-width="1.1"/>
<line x1="527.70" y1="656.00" x2="527.70" y2="662.00" stroke="#333333" stroke-width="1.1"/>
<line x1="524.70" y1="656.00" x2="530.70" y2="656.00" stroke="#333333" stroke-width="1.1"/>
<line x1="524.70" y1="662.00" x2="530.70" y2="662.00" stroke="#333333" stroke-width="1.1"/>
<line x1="545.50" y1="656.60" x2="545.50" y2="665.70" stroke="#3a1212" stroke-width="1.1"/>
<line x1="542.50" y1="656.60" x2="548.50" y2="656.60" stroke="#3a1212" stroke-width="1.1"/>
<line x1="542.50" y1="665.70" x2="548.50" y2="665.70" stroke="#3a1212" stroke-width="1.1"/>
</svg></body></html>
